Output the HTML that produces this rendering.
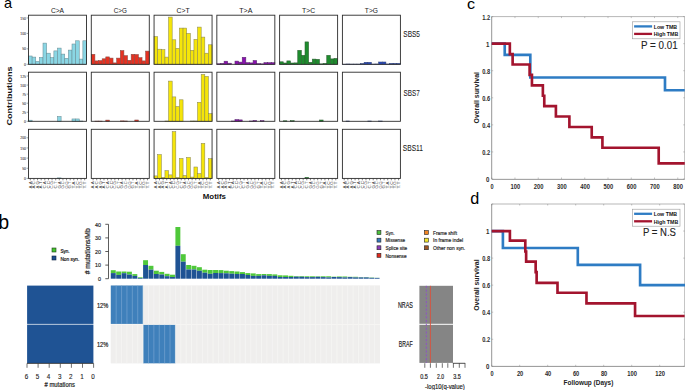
<!DOCTYPE html>
<html><head><meta charset="utf-8"><style>
html,body{margin:0;padding:0;background:#fff;overflow:hidden;}
svg{display:block;}
text{font-family:"Liberation Sans", sans-serif;}
</style></head><body>
<svg width="685" height="390" viewBox="0 0 685 390">
<rect width="685" height="390" fill="#fff"/>
<rect x="28.50" y="56.00" width="3.62" height="8.30" fill="#8AD6E4" stroke="#6A8E96" stroke-width="0.55"/>
<rect x="32.12" y="57.10" width="3.62" height="7.20" fill="#8AD6E4" stroke="#6A8E96" stroke-width="0.55"/>
<rect x="35.75" y="61.50" width="3.62" height="2.80" fill="#8AD6E4" stroke="#6A8E96" stroke-width="0.55"/>
<rect x="39.38" y="57.50" width="3.62" height="6.80" fill="#8AD6E4" stroke="#6A8E96" stroke-width="0.55"/>
<rect x="43.00" y="43.10" width="3.62" height="21.20" fill="#8AD6E4" stroke="#6A8E96" stroke-width="0.55"/>
<rect x="46.62" y="53.20" width="3.62" height="11.10" fill="#8AD6E4" stroke="#6A8E96" stroke-width="0.55"/>
<rect x="50.25" y="57.70" width="3.62" height="6.60" fill="#8AD6E4" stroke="#6A8E96" stroke-width="0.55"/>
<rect x="53.88" y="50.90" width="3.62" height="13.40" fill="#8AD6E4" stroke="#6A8E96" stroke-width="0.55"/>
<rect x="57.50" y="48.10" width="3.62" height="16.20" fill="#8AD6E4" stroke="#6A8E96" stroke-width="0.55"/>
<rect x="61.12" y="54.10" width="3.62" height="10.20" fill="#8AD6E4" stroke="#6A8E96" stroke-width="0.55"/>
<rect x="64.75" y="58.30" width="3.62" height="6.00" fill="#8AD6E4" stroke="#6A8E96" stroke-width="0.55"/>
<rect x="68.38" y="50.10" width="3.62" height="14.20" fill="#8AD6E4" stroke="#6A8E96" stroke-width="0.55"/>
<rect x="72.00" y="44.00" width="3.62" height="20.30" fill="#8AD6E4" stroke="#6A8E96" stroke-width="0.55"/>
<rect x="75.62" y="40.80" width="3.62" height="23.50" fill="#8AD6E4" stroke="#6A8E96" stroke-width="0.55"/>
<rect x="79.25" y="59.10" width="3.62" height="5.20" fill="#8AD6E4" stroke="#6A8E96" stroke-width="0.55"/>
<rect x="82.88" y="40.80" width="3.62" height="23.50" fill="#8AD6E4" stroke="#6A8E96" stroke-width="0.55"/>
<rect x="28.50" y="15.20" width="58.0" height="49.1" fill="none" stroke="#2b2b2b" stroke-width="0.9"/>
<rect x="91.28" y="54.30" width="3.62" height="10.00" fill="#E53222" stroke="#8A4A44" stroke-width="0.55"/>
<rect x="94.91" y="60.90" width="3.62" height="3.40" fill="#E53222" stroke="#8A4A44" stroke-width="0.55"/>
<rect x="98.53" y="60.60" width="3.62" height="3.70" fill="#E53222" stroke="#8A4A44" stroke-width="0.55"/>
<rect x="102.16" y="58.80" width="3.62" height="5.50" fill="#E53222" stroke="#8A4A44" stroke-width="0.55"/>
<rect x="105.78" y="56.90" width="3.62" height="7.40" fill="#E53222" stroke="#8A4A44" stroke-width="0.55"/>
<rect x="109.41" y="58.10" width="3.62" height="6.20" fill="#E53222" stroke="#8A4A44" stroke-width="0.55"/>
<rect x="113.03" y="62.90" width="3.62" height="1.40" fill="#E53222" stroke="#8A4A44" stroke-width="0.55"/>
<rect x="116.66" y="58.10" width="3.62" height="6.20" fill="#E53222" stroke="#8A4A44" stroke-width="0.55"/>
<rect x="120.28" y="50.60" width="3.62" height="13.70" fill="#E53222" stroke="#8A4A44" stroke-width="0.55"/>
<rect x="123.91" y="55.70" width="3.62" height="8.60" fill="#E53222" stroke="#8A4A44" stroke-width="0.55"/>
<rect x="127.53" y="60.30" width="3.62" height="4.00" fill="#E53222" stroke="#8A4A44" stroke-width="0.55"/>
<rect x="131.16" y="54.30" width="3.62" height="10.00" fill="#E53222" stroke="#8A4A44" stroke-width="0.55"/>
<rect x="134.78" y="54.50" width="3.62" height="9.80" fill="#E53222" stroke="#8A4A44" stroke-width="0.55"/>
<rect x="138.41" y="57.70" width="3.62" height="6.60" fill="#E53222" stroke="#8A4A44" stroke-width="0.55"/>
<rect x="142.03" y="60.90" width="3.62" height="3.40" fill="#E53222" stroke="#8A4A44" stroke-width="0.55"/>
<rect x="145.66" y="51.10" width="3.62" height="13.20" fill="#E53222" stroke="#8A4A44" stroke-width="0.55"/>
<rect x="91.28" y="15.20" width="58.0" height="49.1" fill="none" stroke="#2b2b2b" stroke-width="0.9"/>
<rect x="154.06" y="36.60" width="3.62" height="27.70" fill="#F5E50A" stroke="#8E8A50" stroke-width="0.55"/>
<rect x="157.69" y="49.20" width="3.62" height="15.10" fill="#F5E50A" stroke="#8E8A50" stroke-width="0.55"/>
<rect x="161.31" y="49.70" width="3.62" height="14.60" fill="#F5E50A" stroke="#8E8A50" stroke-width="0.55"/>
<rect x="164.94" y="57.10" width="3.62" height="7.20" fill="#F5E50A" stroke="#8E8A50" stroke-width="0.55"/>
<rect x="168.56" y="17.10" width="3.62" height="47.20" fill="#F5E50A" stroke="#8E8A50" stroke-width="0.55"/>
<rect x="172.19" y="39.80" width="3.62" height="24.50" fill="#F5E50A" stroke="#8E8A50" stroke-width="0.55"/>
<rect x="175.81" y="48.30" width="3.62" height="16.00" fill="#F5E50A" stroke="#8E8A50" stroke-width="0.55"/>
<rect x="179.44" y="28.10" width="3.62" height="36.20" fill="#F5E50A" stroke="#8E8A50" stroke-width="0.55"/>
<rect x="183.06" y="28.10" width="3.62" height="36.20" fill="#F5E50A" stroke="#8E8A50" stroke-width="0.55"/>
<rect x="186.69" y="33.40" width="3.62" height="30.90" fill="#F5E50A" stroke="#8E8A50" stroke-width="0.55"/>
<rect x="190.31" y="50.30" width="3.62" height="14.00" fill="#F5E50A" stroke="#8E8A50" stroke-width="0.55"/>
<rect x="193.94" y="39.40" width="3.62" height="24.90" fill="#F5E50A" stroke="#8E8A50" stroke-width="0.55"/>
<rect x="197.56" y="27.10" width="3.62" height="37.20" fill="#F5E50A" stroke="#8E8A50" stroke-width="0.55"/>
<rect x="201.19" y="37.10" width="3.62" height="27.20" fill="#F5E50A" stroke="#8E8A50" stroke-width="0.55"/>
<rect x="204.81" y="53.20" width="3.62" height="11.10" fill="#F5E50A" stroke="#8E8A50" stroke-width="0.55"/>
<rect x="208.44" y="44.80" width="3.62" height="19.50" fill="#F5E50A" stroke="#8E8A50" stroke-width="0.55"/>
<rect x="154.06" y="15.20" width="58.0" height="49.1" fill="none" stroke="#2b2b2b" stroke-width="0.9"/>
<rect x="216.84" y="63.80" width="3.62" height="0.50" fill="#8A10B0" stroke="#5A2A6E" stroke-width="0.55"/>
<rect x="220.47" y="63.40" width="3.62" height="0.90" fill="#8A10B0" stroke="#5A2A6E" stroke-width="0.55"/>
<rect x="224.09" y="61.20" width="3.62" height="3.10" fill="#8A10B0" stroke="#5A2A6E" stroke-width="0.55"/>
<rect x="227.72" y="63.20" width="3.62" height="1.10" fill="#8A10B0" stroke="#5A2A6E" stroke-width="0.55"/>
<rect x="234.97" y="61.10" width="3.62" height="3.20" fill="#8A10B0" stroke="#5A2A6E" stroke-width="0.55"/>
<rect x="238.59" y="62.10" width="3.62" height="2.20" fill="#8A10B0" stroke="#5A2A6E" stroke-width="0.55"/>
<rect x="242.22" y="57.30" width="3.62" height="7.00" fill="#8A10B0" stroke="#5A2A6E" stroke-width="0.55"/>
<rect x="245.84" y="62.70" width="3.62" height="1.60" fill="#8A10B0" stroke="#5A2A6E" stroke-width="0.55"/>
<rect x="249.47" y="62.90" width="3.62" height="1.40" fill="#8A10B0" stroke="#5A2A6E" stroke-width="0.55"/>
<rect x="253.09" y="60.50" width="3.62" height="3.80" fill="#8A10B0" stroke="#5A2A6E" stroke-width="0.55"/>
<rect x="256.72" y="63.60" width="3.62" height="0.70" fill="#8A10B0" stroke="#5A2A6E" stroke-width="0.55"/>
<rect x="260.34" y="63.90" width="3.62" height="0.40" fill="#8A10B0" stroke="#5A2A6E" stroke-width="0.55"/>
<rect x="263.97" y="62.70" width="3.62" height="1.60" fill="#8A10B0" stroke="#5A2A6E" stroke-width="0.55"/>
<rect x="267.59" y="62.70" width="3.62" height="1.60" fill="#8A10B0" stroke="#5A2A6E" stroke-width="0.55"/>
<rect x="271.22" y="62.70" width="3.62" height="1.60" fill="#8A10B0" stroke="#5A2A6E" stroke-width="0.55"/>
<rect x="216.84" y="15.20" width="58.0" height="49.1" fill="none" stroke="#2b2b2b" stroke-width="0.9"/>
<rect x="279.62" y="61.80" width="3.62" height="2.50" fill="#1E8C2E" stroke="#2F5F33" stroke-width="0.55"/>
<rect x="283.25" y="63.00" width="3.62" height="1.30" fill="#1E8C2E" stroke="#2F5F33" stroke-width="0.55"/>
<rect x="286.87" y="60.90" width="3.62" height="3.40" fill="#1E8C2E" stroke="#2F5F33" stroke-width="0.55"/>
<rect x="290.50" y="63.00" width="3.62" height="1.30" fill="#1E8C2E" stroke="#2F5F33" stroke-width="0.55"/>
<rect x="294.12" y="62.90" width="3.62" height="1.40" fill="#1E8C2E" stroke="#2F5F33" stroke-width="0.55"/>
<rect x="297.75" y="50.30" width="3.62" height="14.00" fill="#1E8C2E" stroke="#2F5F33" stroke-width="0.55"/>
<rect x="301.37" y="55.30" width="3.62" height="9.00" fill="#1E8C2E" stroke="#2F5F33" stroke-width="0.55"/>
<rect x="305.00" y="41.90" width="3.62" height="22.40" fill="#1E8C2E" stroke="#2F5F33" stroke-width="0.55"/>
<rect x="308.62" y="62.30" width="3.62" height="2.00" fill="#1E8C2E" stroke="#2F5F33" stroke-width="0.55"/>
<rect x="312.25" y="59.10" width="3.62" height="5.20" fill="#1E8C2E" stroke="#2F5F33" stroke-width="0.55"/>
<rect x="315.87" y="59.30" width="3.62" height="5.00" fill="#1E8C2E" stroke="#2F5F33" stroke-width="0.55"/>
<rect x="319.50" y="63.90" width="3.62" height="0.40" fill="#1E8C2E" stroke="#2F5F33" stroke-width="0.55"/>
<rect x="323.12" y="63.40" width="3.62" height="0.90" fill="#1E8C2E" stroke="#2F5F33" stroke-width="0.55"/>
<rect x="326.75" y="55.30" width="3.62" height="9.00" fill="#1E8C2E" stroke="#2F5F33" stroke-width="0.55"/>
<rect x="330.37" y="58.90" width="3.62" height="5.40" fill="#1E8C2E" stroke="#2F5F33" stroke-width="0.55"/>
<rect x="334.00" y="58.40" width="3.62" height="5.90" fill="#1E8C2E" stroke="#2F5F33" stroke-width="0.55"/>
<rect x="279.62" y="15.20" width="58.0" height="49.1" fill="none" stroke="#2b2b2b" stroke-width="0.9"/>
<rect x="342.40" y="64.20" width="3.62" height="0.10" fill="#2748BE" stroke="#33467A" stroke-width="0.55"/>
<rect x="346.02" y="64.00" width="3.62" height="0.30" fill="#2748BE" stroke="#33467A" stroke-width="0.55"/>
<rect x="349.65" y="64.10" width="3.62" height="0.20" fill="#2748BE" stroke="#33467A" stroke-width="0.55"/>
<rect x="353.27" y="64.10" width="3.62" height="0.20" fill="#2748BE" stroke="#33467A" stroke-width="0.55"/>
<rect x="356.90" y="64.10" width="3.62" height="0.20" fill="#2748BE" stroke="#33467A" stroke-width="0.55"/>
<rect x="360.52" y="63.60" width="3.62" height="0.70" fill="#2748BE" stroke="#33467A" stroke-width="0.55"/>
<rect x="364.15" y="62.30" width="3.62" height="2.00" fill="#2748BE" stroke="#33467A" stroke-width="0.55"/>
<rect x="367.77" y="62.30" width="3.62" height="2.00" fill="#2748BE" stroke="#33467A" stroke-width="0.55"/>
<rect x="371.40" y="64.10" width="3.62" height="0.20" fill="#2748BE" stroke="#33467A" stroke-width="0.55"/>
<rect x="375.02" y="64.00" width="3.62" height="0.30" fill="#2748BE" stroke="#33467A" stroke-width="0.55"/>
<rect x="378.65" y="62.00" width="3.62" height="2.30" fill="#2748BE" stroke="#33467A" stroke-width="0.55"/>
<rect x="382.27" y="62.00" width="3.62" height="2.30" fill="#2748BE" stroke="#33467A" stroke-width="0.55"/>
<rect x="385.90" y="64.00" width="3.62" height="0.30" fill="#2748BE" stroke="#33467A" stroke-width="0.55"/>
<rect x="389.52" y="63.40" width="3.62" height="0.90" fill="#2748BE" stroke="#33467A" stroke-width="0.55"/>
<rect x="393.15" y="63.40" width="3.62" height="0.90" fill="#2748BE" stroke="#33467A" stroke-width="0.55"/>
<rect x="396.77" y="63.40" width="3.62" height="0.90" fill="#2748BE" stroke="#33467A" stroke-width="0.55"/>
<rect x="342.40" y="15.20" width="58.0" height="49.1" fill="none" stroke="#2b2b2b" stroke-width="0.9"/>
<rect x="28.50" y="120.20" width="3.62" height="1.10" fill="#8AD6E4" stroke="#6A8E96" stroke-width="0.55"/>
<rect x="57.50" y="116.50" width="3.62" height="4.80" fill="#8AD6E4" stroke="#6A8E96" stroke-width="0.55"/>
<rect x="72.00" y="118.95" width="3.62" height="2.35" fill="#8AD6E4" stroke="#6A8E96" stroke-width="0.55"/>
<rect x="75.62" y="118.95" width="3.62" height="2.35" fill="#8AD6E4" stroke="#6A8E96" stroke-width="0.55"/>
<rect x="79.25" y="121.00" width="3.62" height="0.30" fill="#8AD6E4" stroke="#6A8E96" stroke-width="0.55"/>
<rect x="28.50" y="72.20" width="58.0" height="49.1" fill="none" stroke="#2b2b2b" stroke-width="0.9"/>
<rect x="94.91" y="121.10" width="3.62" height="0.20" fill="#E53222" stroke="#8A4A44" stroke-width="0.55"/>
<rect x="98.53" y="121.10" width="3.62" height="0.20" fill="#E53222" stroke="#8A4A44" stroke-width="0.55"/>
<rect x="105.78" y="120.10" width="3.62" height="1.20" fill="#E53222" stroke="#8A4A44" stroke-width="0.55"/>
<rect x="120.28" y="120.90" width="3.62" height="0.40" fill="#E53222" stroke="#8A4A44" stroke-width="0.55"/>
<rect x="123.91" y="121.00" width="3.62" height="0.30" fill="#E53222" stroke="#8A4A44" stroke-width="0.55"/>
<rect x="134.78" y="120.00" width="3.62" height="1.30" fill="#E53222" stroke="#8A4A44" stroke-width="0.55"/>
<rect x="91.28" y="72.20" width="58.0" height="49.1" fill="none" stroke="#2b2b2b" stroke-width="0.9"/>
<rect x="164.94" y="121.00" width="3.62" height="0.30" fill="#F5E50A" stroke="#8E8A50" stroke-width="0.55"/>
<rect x="168.56" y="81.10" width="3.62" height="40.20" fill="#F5E50A" stroke="#8E8A50" stroke-width="0.55"/>
<rect x="172.19" y="96.90" width="3.62" height="24.40" fill="#F5E50A" stroke="#8E8A50" stroke-width="0.55"/>
<rect x="175.81" y="106.50" width="3.62" height="14.80" fill="#F5E50A" stroke="#8E8A50" stroke-width="0.55"/>
<rect x="179.44" y="99.80" width="3.62" height="21.50" fill="#F5E50A" stroke="#8E8A50" stroke-width="0.55"/>
<rect x="190.31" y="121.00" width="3.62" height="0.30" fill="#F5E50A" stroke="#8E8A50" stroke-width="0.55"/>
<rect x="193.94" y="121.00" width="3.62" height="0.30" fill="#F5E50A" stroke="#8E8A50" stroke-width="0.55"/>
<rect x="197.56" y="102.30" width="3.62" height="19.00" fill="#F5E50A" stroke="#8E8A50" stroke-width="0.55"/>
<rect x="201.19" y="74.50" width="3.62" height="46.80" fill="#F5E50A" stroke="#8E8A50" stroke-width="0.55"/>
<rect x="204.81" y="76.40" width="3.62" height="44.90" fill="#F5E50A" stroke="#8E8A50" stroke-width="0.55"/>
<rect x="208.44" y="113.70" width="3.62" height="7.60" fill="#F5E50A" stroke="#8E8A50" stroke-width="0.55"/>
<rect x="154.06" y="72.20" width="58.0" height="49.1" fill="none" stroke="#2b2b2b" stroke-width="0.9"/>
<rect x="231.34" y="121.00" width="3.62" height="0.30" fill="#8A10B0" stroke="#5A2A6E" stroke-width="0.55"/>
<rect x="234.97" y="119.60" width="3.62" height="1.70" fill="#8A10B0" stroke="#5A2A6E" stroke-width="0.55"/>
<rect x="238.59" y="119.90" width="3.62" height="1.40" fill="#8A10B0" stroke="#5A2A6E" stroke-width="0.55"/>
<rect x="249.47" y="121.00" width="3.62" height="0.30" fill="#8A10B0" stroke="#5A2A6E" stroke-width="0.55"/>
<rect x="253.09" y="120.50" width="3.62" height="0.80" fill="#8A10B0" stroke="#5A2A6E" stroke-width="0.55"/>
<rect x="260.34" y="120.70" width="3.62" height="0.60" fill="#8A10B0" stroke="#5A2A6E" stroke-width="0.55"/>
<rect x="216.84" y="72.20" width="58.0" height="49.1" fill="none" stroke="#2b2b2b" stroke-width="0.9"/>
<rect x="283.25" y="120.80" width="3.62" height="0.50" fill="#1E8C2E" stroke="#2F5F33" stroke-width="0.55"/>
<rect x="290.50" y="120.70" width="3.62" height="0.60" fill="#1E8C2E" stroke="#2F5F33" stroke-width="0.55"/>
<rect x="319.50" y="120.00" width="3.62" height="1.30" fill="#1E8C2E" stroke="#2F5F33" stroke-width="0.55"/>
<rect x="279.62" y="72.20" width="58.0" height="49.1" fill="none" stroke="#2b2b2b" stroke-width="0.9"/>
<rect x="346.02" y="121.00" width="3.62" height="0.30" fill="#2748BE" stroke="#33467A" stroke-width="0.55"/>
<rect x="367.77" y="121.00" width="3.62" height="0.30" fill="#2748BE" stroke="#33467A" stroke-width="0.55"/>
<rect x="378.65" y="121.00" width="3.62" height="0.30" fill="#2748BE" stroke="#33467A" stroke-width="0.55"/>
<rect x="342.40" y="72.20" width="58.0" height="49.1" fill="none" stroke="#2b2b2b" stroke-width="0.9"/>
<rect x="57.50" y="177.90" width="3.62" height="0.50" fill="#8AD6E4" stroke="#6A8E96" stroke-width="0.55"/>
<rect x="28.50" y="129.30" width="58.0" height="49.1" fill="none" stroke="#2b2b2b" stroke-width="0.9"/>
<rect x="91.28" y="129.30" width="58.0" height="49.1" fill="none" stroke="#2b2b2b" stroke-width="0.9"/>
<rect x="154.06" y="175.90" width="3.62" height="2.50" fill="#F5E50A" stroke="#8E8A50" stroke-width="0.55"/>
<rect x="157.69" y="154.60" width="3.62" height="23.80" fill="#F5E50A" stroke="#8E8A50" stroke-width="0.55"/>
<rect x="161.31" y="177.50" width="3.62" height="0.90" fill="#F5E50A" stroke="#8E8A50" stroke-width="0.55"/>
<rect x="164.94" y="170.70" width="3.62" height="7.70" fill="#F5E50A" stroke="#8E8A50" stroke-width="0.55"/>
<rect x="168.56" y="174.90" width="3.62" height="3.50" fill="#F5E50A" stroke="#8E8A50" stroke-width="0.55"/>
<rect x="172.19" y="131.70" width="3.62" height="46.70" fill="#F5E50A" stroke="#8E8A50" stroke-width="0.55"/>
<rect x="175.81" y="177.50" width="3.62" height="0.90" fill="#F5E50A" stroke="#8E8A50" stroke-width="0.55"/>
<rect x="179.44" y="158.50" width="3.62" height="19.90" fill="#F5E50A" stroke="#8E8A50" stroke-width="0.55"/>
<rect x="183.06" y="175.50" width="3.62" height="2.90" fill="#F5E50A" stroke="#8E8A50" stroke-width="0.55"/>
<rect x="186.69" y="157.50" width="3.62" height="20.90" fill="#F5E50A" stroke="#8E8A50" stroke-width="0.55"/>
<rect x="190.31" y="177.10" width="3.62" height="1.30" fill="#F5E50A" stroke="#8E8A50" stroke-width="0.55"/>
<rect x="193.94" y="167.00" width="3.62" height="11.40" fill="#F5E50A" stroke="#8E8A50" stroke-width="0.55"/>
<rect x="197.56" y="173.70" width="3.62" height="4.70" fill="#F5E50A" stroke="#8E8A50" stroke-width="0.55"/>
<rect x="201.19" y="143.40" width="3.62" height="35.00" fill="#F5E50A" stroke="#8E8A50" stroke-width="0.55"/>
<rect x="204.81" y="177.50" width="3.62" height="0.90" fill="#F5E50A" stroke="#8E8A50" stroke-width="0.55"/>
<rect x="208.44" y="158.70" width="3.62" height="19.70" fill="#F5E50A" stroke="#8E8A50" stroke-width="0.55"/>
<rect x="154.06" y="129.30" width="58.0" height="49.1" fill="none" stroke="#2b2b2b" stroke-width="0.9"/>
<rect x="216.84" y="129.30" width="58.0" height="49.1" fill="none" stroke="#2b2b2b" stroke-width="0.9"/>
<rect x="305.00" y="177.40" width="3.62" height="1.00" fill="#1E8C2E" stroke="#2F5F33" stroke-width="0.55"/>
<rect x="279.62" y="129.30" width="58.0" height="49.1" fill="none" stroke="#2b2b2b" stroke-width="0.9"/>
<rect x="342.40" y="129.30" width="58.0" height="49.1" fill="none" stroke="#2b2b2b" stroke-width="0.9"/>
<text x="57.50" y="12.90" font-size="7.2" text-anchor="middle" font-weight="normal" fill="#222" stroke="#222" stroke-width="0.04" textLength="13.1" lengthAdjust="spacingAndGlyphs" >C&gt;A</text>
<text x="120.28" y="12.90" font-size="7.2" text-anchor="middle" font-weight="normal" fill="#222" stroke="#222" stroke-width="0.04" textLength="13.1" lengthAdjust="spacingAndGlyphs" >C&gt;G</text>
<text x="183.06" y="12.90" font-size="7.2" text-anchor="middle" font-weight="normal" fill="#222" stroke="#222" stroke-width="0.04" textLength="13.1" lengthAdjust="spacingAndGlyphs" >C&gt;T</text>
<text x="245.84" y="12.90" font-size="7.2" text-anchor="middle" font-weight="normal" fill="#222" stroke="#222" stroke-width="0.04" textLength="13.1" lengthAdjust="spacingAndGlyphs" >T&gt;A</text>
<text x="308.62" y="12.90" font-size="7.2" text-anchor="middle" font-weight="normal" fill="#222" stroke="#222" stroke-width="0.04" textLength="13.1" lengthAdjust="spacingAndGlyphs" >T&gt;C</text>
<text x="371.40" y="12.90" font-size="7.2" text-anchor="middle" font-weight="normal" fill="#222" stroke="#222" stroke-width="0.04" textLength="13.1" lengthAdjust="spacingAndGlyphs" >T&gt;G</text>
<line x1="26.6" y1="64.30" x2="28.5" y2="64.30" stroke="#444" stroke-width="0.5"/>
<text x="26.00" y="65.90" font-size="4.3" text-anchor="end" font-weight="normal" fill="#444" stroke="#444" stroke-width="0.1" textLength="1.9" lengthAdjust="spacingAndGlyphs" >0</text>
<line x1="26.6" y1="48.85" x2="28.5" y2="48.85" stroke="#444" stroke-width="0.5"/>
<text x="26.00" y="50.45" font-size="4.3" text-anchor="end" font-weight="normal" fill="#444" stroke="#444" stroke-width="0.1" textLength="3.8" lengthAdjust="spacingAndGlyphs" >50</text>
<line x1="26.6" y1="33.40" x2="28.5" y2="33.40" stroke="#444" stroke-width="0.5"/>
<text x="26.00" y="35.00" font-size="4.3" text-anchor="end" font-weight="normal" fill="#444" stroke="#444" stroke-width="0.1" textLength="5.7" lengthAdjust="spacingAndGlyphs" >100</text>
<line x1="26.6" y1="17.95" x2="28.5" y2="17.95" stroke="#444" stroke-width="0.5"/>
<text x="26.00" y="19.55" font-size="4.3" text-anchor="end" font-weight="normal" fill="#444" stroke="#444" stroke-width="0.1" textLength="5.7" lengthAdjust="spacingAndGlyphs" >150</text>
<line x1="26.6" y1="121.30" x2="28.5" y2="121.30" stroke="#444" stroke-width="0.5"/>
<text x="26.00" y="122.90" font-size="4.3" text-anchor="end" font-weight="normal" fill="#444" stroke="#444" stroke-width="0.1" textLength="1.9" lengthAdjust="spacingAndGlyphs" >0</text>
<line x1="26.6" y1="112.24" x2="28.5" y2="112.24" stroke="#444" stroke-width="0.5"/>
<text x="26.00" y="113.84" font-size="4.3" text-anchor="end" font-weight="normal" fill="#444" stroke="#444" stroke-width="0.1" textLength="3.8" lengthAdjust="spacingAndGlyphs" >25</text>
<line x1="26.6" y1="103.18" x2="28.5" y2="103.18" stroke="#444" stroke-width="0.5"/>
<text x="26.00" y="104.78" font-size="4.3" text-anchor="end" font-weight="normal" fill="#444" stroke="#444" stroke-width="0.1" textLength="3.8" lengthAdjust="spacingAndGlyphs" >50</text>
<line x1="26.6" y1="94.12" x2="28.5" y2="94.12" stroke="#444" stroke-width="0.5"/>
<text x="26.00" y="95.72" font-size="4.3" text-anchor="end" font-weight="normal" fill="#444" stroke="#444" stroke-width="0.1" textLength="3.8" lengthAdjust="spacingAndGlyphs" >75</text>
<line x1="26.6" y1="85.06" x2="28.5" y2="85.06" stroke="#444" stroke-width="0.5"/>
<text x="26.00" y="86.66" font-size="4.3" text-anchor="end" font-weight="normal" fill="#444" stroke="#444" stroke-width="0.1" textLength="5.7" lengthAdjust="spacingAndGlyphs" >100</text>
<line x1="26.6" y1="76.00" x2="28.5" y2="76.00" stroke="#444" stroke-width="0.5"/>
<text x="26.00" y="77.60" font-size="4.3" text-anchor="end" font-weight="normal" fill="#444" stroke="#444" stroke-width="0.1" textLength="5.7" lengthAdjust="spacingAndGlyphs" >125</text>
<line x1="26.6" y1="178.40" x2="28.5" y2="178.40" stroke="#444" stroke-width="0.5"/>
<text x="26.00" y="180.00" font-size="4.3" text-anchor="end" font-weight="normal" fill="#444" stroke="#444" stroke-width="0.1" textLength="1.9" lengthAdjust="spacingAndGlyphs" >0</text>
<line x1="26.6" y1="168.25" x2="28.5" y2="168.25" stroke="#444" stroke-width="0.5"/>
<text x="26.00" y="169.85" font-size="4.3" text-anchor="end" font-weight="normal" fill="#444" stroke="#444" stroke-width="0.1" textLength="3.8" lengthAdjust="spacingAndGlyphs" >50</text>
<line x1="26.6" y1="158.10" x2="28.5" y2="158.10" stroke="#444" stroke-width="0.5"/>
<text x="26.00" y="159.70" font-size="4.3" text-anchor="end" font-weight="normal" fill="#444" stroke="#444" stroke-width="0.1" textLength="5.7" lengthAdjust="spacingAndGlyphs" >100</text>
<line x1="26.6" y1="147.95" x2="28.5" y2="147.95" stroke="#444" stroke-width="0.5"/>
<text x="26.00" y="149.55" font-size="4.3" text-anchor="end" font-weight="normal" fill="#444" stroke="#444" stroke-width="0.1" textLength="5.7" lengthAdjust="spacingAndGlyphs" >150</text>
<line x1="26.6" y1="137.80" x2="28.5" y2="137.80" stroke="#444" stroke-width="0.5"/>
<text x="26.00" y="139.40" font-size="4.3" text-anchor="end" font-weight="normal" fill="#444" stroke="#444" stroke-width="0.1" textLength="5.7" lengthAdjust="spacingAndGlyphs" >200</text>
<text x="403.30" y="36.90" font-size="9" text-anchor="start" font-weight="normal" fill="#222" stroke="#222" stroke-width="0.08" textLength="16.7" lengthAdjust="spacingAndGlyphs" >SBS5</text>
<text x="403.50" y="96.30" font-size="9" text-anchor="start" font-weight="normal" fill="#222" stroke="#222" stroke-width="0.08" textLength="16.2" lengthAdjust="spacingAndGlyphs" >SBS7</text>
<text x="402.80" y="151.40" font-size="9" text-anchor="start" font-weight="normal" fill="#222" stroke="#222" stroke-width="0.08" textLength="20.2" lengthAdjust="spacingAndGlyphs" >SBS11</text>
<line x1="30.31" y1="178.40" x2="30.31" y2="180.30" stroke="#333" stroke-width="0.6"/>
<text transform="translate(31.61,188.60) rotate(-90)" font-size="4.2" fill="#3a3a3a" textLength="7.3" lengthAdjust="spacingAndGlyphs">A.A</text>
<line x1="33.94" y1="178.40" x2="33.94" y2="180.30" stroke="#333" stroke-width="0.6"/>
<text transform="translate(35.24,188.60) rotate(-90)" font-size="4.2" fill="#3a3a3a" textLength="7.3" lengthAdjust="spacingAndGlyphs">A.C</text>
<line x1="37.56" y1="178.40" x2="37.56" y2="180.30" stroke="#333" stroke-width="0.6"/>
<text transform="translate(38.86,188.60) rotate(-90)" font-size="4.2" fill="#3a3a3a" textLength="7.3" lengthAdjust="spacingAndGlyphs">A.G</text>
<line x1="41.19" y1="178.40" x2="41.19" y2="180.30" stroke="#333" stroke-width="0.6"/>
<text transform="translate(42.49,188.60) rotate(-90)" font-size="4.2" fill="#3a3a3a" textLength="7.3" lengthAdjust="spacingAndGlyphs">A.T</text>
<line x1="44.81" y1="178.40" x2="44.81" y2="180.30" stroke="#333" stroke-width="0.6"/>
<text transform="translate(46.11,188.60) rotate(-90)" font-size="4.2" fill="#3a3a3a" textLength="7.3" lengthAdjust="spacingAndGlyphs">C.A</text>
<line x1="48.44" y1="178.40" x2="48.44" y2="180.30" stroke="#333" stroke-width="0.6"/>
<text transform="translate(49.74,188.60) rotate(-90)" font-size="4.2" fill="#3a3a3a" textLength="7.3" lengthAdjust="spacingAndGlyphs">C.C</text>
<line x1="52.06" y1="178.40" x2="52.06" y2="180.30" stroke="#333" stroke-width="0.6"/>
<text transform="translate(53.36,188.60) rotate(-90)" font-size="4.2" fill="#3a3a3a" textLength="7.3" lengthAdjust="spacingAndGlyphs">C.G</text>
<line x1="55.69" y1="178.40" x2="55.69" y2="180.30" stroke="#333" stroke-width="0.6"/>
<text transform="translate(56.99,188.60) rotate(-90)" font-size="4.2" fill="#3a3a3a" textLength="7.3" lengthAdjust="spacingAndGlyphs">C.T</text>
<line x1="59.31" y1="178.40" x2="59.31" y2="180.30" stroke="#333" stroke-width="0.6"/>
<text transform="translate(60.61,188.60) rotate(-90)" font-size="4.2" fill="#3a3a3a" textLength="7.3" lengthAdjust="spacingAndGlyphs">G.A</text>
<line x1="62.94" y1="178.40" x2="62.94" y2="180.30" stroke="#333" stroke-width="0.6"/>
<text transform="translate(64.24,188.60) rotate(-90)" font-size="4.2" fill="#3a3a3a" textLength="7.3" lengthAdjust="spacingAndGlyphs">G.C</text>
<line x1="66.56" y1="178.40" x2="66.56" y2="180.30" stroke="#333" stroke-width="0.6"/>
<text transform="translate(67.86,188.60) rotate(-90)" font-size="4.2" fill="#3a3a3a" textLength="7.3" lengthAdjust="spacingAndGlyphs">G.G</text>
<line x1="70.19" y1="178.40" x2="70.19" y2="180.30" stroke="#333" stroke-width="0.6"/>
<text transform="translate(71.49,188.60) rotate(-90)" font-size="4.2" fill="#3a3a3a" textLength="7.3" lengthAdjust="spacingAndGlyphs">G.T</text>
<line x1="73.81" y1="178.40" x2="73.81" y2="180.30" stroke="#333" stroke-width="0.6"/>
<text transform="translate(75.11,188.60) rotate(-90)" font-size="4.2" fill="#3a3a3a" textLength="7.3" lengthAdjust="spacingAndGlyphs">T.A</text>
<line x1="77.44" y1="178.40" x2="77.44" y2="180.30" stroke="#333" stroke-width="0.6"/>
<text transform="translate(78.74,188.60) rotate(-90)" font-size="4.2" fill="#3a3a3a" textLength="7.3" lengthAdjust="spacingAndGlyphs">T.C</text>
<line x1="81.06" y1="178.40" x2="81.06" y2="180.30" stroke="#333" stroke-width="0.6"/>
<text transform="translate(82.36,188.60) rotate(-90)" font-size="4.2" fill="#3a3a3a" textLength="7.3" lengthAdjust="spacingAndGlyphs">T.G</text>
<line x1="84.69" y1="178.40" x2="84.69" y2="180.30" stroke="#333" stroke-width="0.6"/>
<text transform="translate(85.99,188.60) rotate(-90)" font-size="4.2" fill="#3a3a3a" textLength="7.3" lengthAdjust="spacingAndGlyphs">T.T</text>
<line x1="93.09" y1="178.40" x2="93.09" y2="180.30" stroke="#333" stroke-width="0.6"/>
<text transform="translate(94.39,188.60) rotate(-90)" font-size="4.2" fill="#3a3a3a" textLength="7.3" lengthAdjust="spacingAndGlyphs">A.A</text>
<line x1="96.72" y1="178.40" x2="96.72" y2="180.30" stroke="#333" stroke-width="0.6"/>
<text transform="translate(98.02,188.60) rotate(-90)" font-size="4.2" fill="#3a3a3a" textLength="7.3" lengthAdjust="spacingAndGlyphs">A.C</text>
<line x1="100.34" y1="178.40" x2="100.34" y2="180.30" stroke="#333" stroke-width="0.6"/>
<text transform="translate(101.64,188.60) rotate(-90)" font-size="4.2" fill="#3a3a3a" textLength="7.3" lengthAdjust="spacingAndGlyphs">A.G</text>
<line x1="103.97" y1="178.40" x2="103.97" y2="180.30" stroke="#333" stroke-width="0.6"/>
<text transform="translate(105.27,188.60) rotate(-90)" font-size="4.2" fill="#3a3a3a" textLength="7.3" lengthAdjust="spacingAndGlyphs">A.T</text>
<line x1="107.59" y1="178.40" x2="107.59" y2="180.30" stroke="#333" stroke-width="0.6"/>
<text transform="translate(108.89,188.60) rotate(-90)" font-size="4.2" fill="#3a3a3a" textLength="7.3" lengthAdjust="spacingAndGlyphs">C.A</text>
<line x1="111.22" y1="178.40" x2="111.22" y2="180.30" stroke="#333" stroke-width="0.6"/>
<text transform="translate(112.52,188.60) rotate(-90)" font-size="4.2" fill="#3a3a3a" textLength="7.3" lengthAdjust="spacingAndGlyphs">C.C</text>
<line x1="114.84" y1="178.40" x2="114.84" y2="180.30" stroke="#333" stroke-width="0.6"/>
<text transform="translate(116.14,188.60) rotate(-90)" font-size="4.2" fill="#3a3a3a" textLength="7.3" lengthAdjust="spacingAndGlyphs">C.G</text>
<line x1="118.47" y1="178.40" x2="118.47" y2="180.30" stroke="#333" stroke-width="0.6"/>
<text transform="translate(119.77,188.60) rotate(-90)" font-size="4.2" fill="#3a3a3a" textLength="7.3" lengthAdjust="spacingAndGlyphs">C.T</text>
<line x1="122.09" y1="178.40" x2="122.09" y2="180.30" stroke="#333" stroke-width="0.6"/>
<text transform="translate(123.39,188.60) rotate(-90)" font-size="4.2" fill="#3a3a3a" textLength="7.3" lengthAdjust="spacingAndGlyphs">G.A</text>
<line x1="125.72" y1="178.40" x2="125.72" y2="180.30" stroke="#333" stroke-width="0.6"/>
<text transform="translate(127.02,188.60) rotate(-90)" font-size="4.2" fill="#3a3a3a" textLength="7.3" lengthAdjust="spacingAndGlyphs">G.C</text>
<line x1="129.34" y1="178.40" x2="129.34" y2="180.30" stroke="#333" stroke-width="0.6"/>
<text transform="translate(130.64,188.60) rotate(-90)" font-size="4.2" fill="#3a3a3a" textLength="7.3" lengthAdjust="spacingAndGlyphs">G.G</text>
<line x1="132.97" y1="178.40" x2="132.97" y2="180.30" stroke="#333" stroke-width="0.6"/>
<text transform="translate(134.27,188.60) rotate(-90)" font-size="4.2" fill="#3a3a3a" textLength="7.3" lengthAdjust="spacingAndGlyphs">G.T</text>
<line x1="136.59" y1="178.40" x2="136.59" y2="180.30" stroke="#333" stroke-width="0.6"/>
<text transform="translate(137.89,188.60) rotate(-90)" font-size="4.2" fill="#3a3a3a" textLength="7.3" lengthAdjust="spacingAndGlyphs">T.A</text>
<line x1="140.22" y1="178.40" x2="140.22" y2="180.30" stroke="#333" stroke-width="0.6"/>
<text transform="translate(141.52,188.60) rotate(-90)" font-size="4.2" fill="#3a3a3a" textLength="7.3" lengthAdjust="spacingAndGlyphs">T.C</text>
<line x1="143.84" y1="178.40" x2="143.84" y2="180.30" stroke="#333" stroke-width="0.6"/>
<text transform="translate(145.14,188.60) rotate(-90)" font-size="4.2" fill="#3a3a3a" textLength="7.3" lengthAdjust="spacingAndGlyphs">T.G</text>
<line x1="147.47" y1="178.40" x2="147.47" y2="180.30" stroke="#333" stroke-width="0.6"/>
<text transform="translate(148.77,188.60) rotate(-90)" font-size="4.2" fill="#3a3a3a" textLength="7.3" lengthAdjust="spacingAndGlyphs">T.T</text>
<line x1="155.87" y1="178.40" x2="155.87" y2="180.30" stroke="#333" stroke-width="0.6"/>
<text transform="translate(157.17,188.60) rotate(-90)" font-size="4.2" fill="#3a3a3a" textLength="7.3" lengthAdjust="spacingAndGlyphs">A.A</text>
<line x1="159.50" y1="178.40" x2="159.50" y2="180.30" stroke="#333" stroke-width="0.6"/>
<text transform="translate(160.80,188.60) rotate(-90)" font-size="4.2" fill="#3a3a3a" textLength="7.3" lengthAdjust="spacingAndGlyphs">A.C</text>
<line x1="163.12" y1="178.40" x2="163.12" y2="180.30" stroke="#333" stroke-width="0.6"/>
<text transform="translate(164.42,188.60) rotate(-90)" font-size="4.2" fill="#3a3a3a" textLength="7.3" lengthAdjust="spacingAndGlyphs">A.G</text>
<line x1="166.75" y1="178.40" x2="166.75" y2="180.30" stroke="#333" stroke-width="0.6"/>
<text transform="translate(168.05,188.60) rotate(-90)" font-size="4.2" fill="#3a3a3a" textLength="7.3" lengthAdjust="spacingAndGlyphs">A.T</text>
<line x1="170.37" y1="178.40" x2="170.37" y2="180.30" stroke="#333" stroke-width="0.6"/>
<text transform="translate(171.67,188.60) rotate(-90)" font-size="4.2" fill="#3a3a3a" textLength="7.3" lengthAdjust="spacingAndGlyphs">C.A</text>
<line x1="174.00" y1="178.40" x2="174.00" y2="180.30" stroke="#333" stroke-width="0.6"/>
<text transform="translate(175.30,188.60) rotate(-90)" font-size="4.2" fill="#3a3a3a" textLength="7.3" lengthAdjust="spacingAndGlyphs">C.C</text>
<line x1="177.62" y1="178.40" x2="177.62" y2="180.30" stroke="#333" stroke-width="0.6"/>
<text transform="translate(178.92,188.60) rotate(-90)" font-size="4.2" fill="#3a3a3a" textLength="7.3" lengthAdjust="spacingAndGlyphs">C.G</text>
<line x1="181.25" y1="178.40" x2="181.25" y2="180.30" stroke="#333" stroke-width="0.6"/>
<text transform="translate(182.55,188.60) rotate(-90)" font-size="4.2" fill="#3a3a3a" textLength="7.3" lengthAdjust="spacingAndGlyphs">C.T</text>
<line x1="184.87" y1="178.40" x2="184.87" y2="180.30" stroke="#333" stroke-width="0.6"/>
<text transform="translate(186.17,188.60) rotate(-90)" font-size="4.2" fill="#3a3a3a" textLength="7.3" lengthAdjust="spacingAndGlyphs">G.A</text>
<line x1="188.50" y1="178.40" x2="188.50" y2="180.30" stroke="#333" stroke-width="0.6"/>
<text transform="translate(189.80,188.60) rotate(-90)" font-size="4.2" fill="#3a3a3a" textLength="7.3" lengthAdjust="spacingAndGlyphs">G.C</text>
<line x1="192.12" y1="178.40" x2="192.12" y2="180.30" stroke="#333" stroke-width="0.6"/>
<text transform="translate(193.42,188.60) rotate(-90)" font-size="4.2" fill="#3a3a3a" textLength="7.3" lengthAdjust="spacingAndGlyphs">G.G</text>
<line x1="195.75" y1="178.40" x2="195.75" y2="180.30" stroke="#333" stroke-width="0.6"/>
<text transform="translate(197.05,188.60) rotate(-90)" font-size="4.2" fill="#3a3a3a" textLength="7.3" lengthAdjust="spacingAndGlyphs">G.T</text>
<line x1="199.37" y1="178.40" x2="199.37" y2="180.30" stroke="#333" stroke-width="0.6"/>
<text transform="translate(200.67,188.60) rotate(-90)" font-size="4.2" fill="#3a3a3a" textLength="7.3" lengthAdjust="spacingAndGlyphs">T.A</text>
<line x1="203.00" y1="178.40" x2="203.00" y2="180.30" stroke="#333" stroke-width="0.6"/>
<text transform="translate(204.30,188.60) rotate(-90)" font-size="4.2" fill="#3a3a3a" textLength="7.3" lengthAdjust="spacingAndGlyphs">T.C</text>
<line x1="206.62" y1="178.40" x2="206.62" y2="180.30" stroke="#333" stroke-width="0.6"/>
<text transform="translate(207.92,188.60) rotate(-90)" font-size="4.2" fill="#3a3a3a" textLength="7.3" lengthAdjust="spacingAndGlyphs">T.G</text>
<line x1="210.25" y1="178.40" x2="210.25" y2="180.30" stroke="#333" stroke-width="0.6"/>
<text transform="translate(211.55,188.60) rotate(-90)" font-size="4.2" fill="#3a3a3a" textLength="7.3" lengthAdjust="spacingAndGlyphs">T.T</text>
<line x1="218.65" y1="178.40" x2="218.65" y2="180.30" stroke="#333" stroke-width="0.6"/>
<text transform="translate(219.95,188.60) rotate(-90)" font-size="4.2" fill="#3a3a3a" textLength="7.3" lengthAdjust="spacingAndGlyphs">A.A</text>
<line x1="222.28" y1="178.40" x2="222.28" y2="180.30" stroke="#333" stroke-width="0.6"/>
<text transform="translate(223.58,188.60) rotate(-90)" font-size="4.2" fill="#3a3a3a" textLength="7.3" lengthAdjust="spacingAndGlyphs">A.C</text>
<line x1="225.90" y1="178.40" x2="225.90" y2="180.30" stroke="#333" stroke-width="0.6"/>
<text transform="translate(227.20,188.60) rotate(-90)" font-size="4.2" fill="#3a3a3a" textLength="7.3" lengthAdjust="spacingAndGlyphs">A.G</text>
<line x1="229.53" y1="178.40" x2="229.53" y2="180.30" stroke="#333" stroke-width="0.6"/>
<text transform="translate(230.83,188.60) rotate(-90)" font-size="4.2" fill="#3a3a3a" textLength="7.3" lengthAdjust="spacingAndGlyphs">A.T</text>
<line x1="233.15" y1="178.40" x2="233.15" y2="180.30" stroke="#333" stroke-width="0.6"/>
<text transform="translate(234.45,188.60) rotate(-90)" font-size="4.2" fill="#3a3a3a" textLength="7.3" lengthAdjust="spacingAndGlyphs">C.A</text>
<line x1="236.78" y1="178.40" x2="236.78" y2="180.30" stroke="#333" stroke-width="0.6"/>
<text transform="translate(238.08,188.60) rotate(-90)" font-size="4.2" fill="#3a3a3a" textLength="7.3" lengthAdjust="spacingAndGlyphs">C.C</text>
<line x1="240.40" y1="178.40" x2="240.40" y2="180.30" stroke="#333" stroke-width="0.6"/>
<text transform="translate(241.70,188.60) rotate(-90)" font-size="4.2" fill="#3a3a3a" textLength="7.3" lengthAdjust="spacingAndGlyphs">C.G</text>
<line x1="244.03" y1="178.40" x2="244.03" y2="180.30" stroke="#333" stroke-width="0.6"/>
<text transform="translate(245.33,188.60) rotate(-90)" font-size="4.2" fill="#3a3a3a" textLength="7.3" lengthAdjust="spacingAndGlyphs">C.T</text>
<line x1="247.65" y1="178.40" x2="247.65" y2="180.30" stroke="#333" stroke-width="0.6"/>
<text transform="translate(248.95,188.60) rotate(-90)" font-size="4.2" fill="#3a3a3a" textLength="7.3" lengthAdjust="spacingAndGlyphs">G.A</text>
<line x1="251.28" y1="178.40" x2="251.28" y2="180.30" stroke="#333" stroke-width="0.6"/>
<text transform="translate(252.58,188.60) rotate(-90)" font-size="4.2" fill="#3a3a3a" textLength="7.3" lengthAdjust="spacingAndGlyphs">G.C</text>
<line x1="254.90" y1="178.40" x2="254.90" y2="180.30" stroke="#333" stroke-width="0.6"/>
<text transform="translate(256.20,188.60) rotate(-90)" font-size="4.2" fill="#3a3a3a" textLength="7.3" lengthAdjust="spacingAndGlyphs">G.G</text>
<line x1="258.53" y1="178.40" x2="258.53" y2="180.30" stroke="#333" stroke-width="0.6"/>
<text transform="translate(259.83,188.60) rotate(-90)" font-size="4.2" fill="#3a3a3a" textLength="7.3" lengthAdjust="spacingAndGlyphs">G.T</text>
<line x1="262.15" y1="178.40" x2="262.15" y2="180.30" stroke="#333" stroke-width="0.6"/>
<text transform="translate(263.45,188.60) rotate(-90)" font-size="4.2" fill="#3a3a3a" textLength="7.3" lengthAdjust="spacingAndGlyphs">T.A</text>
<line x1="265.78" y1="178.40" x2="265.78" y2="180.30" stroke="#333" stroke-width="0.6"/>
<text transform="translate(267.08,188.60) rotate(-90)" font-size="4.2" fill="#3a3a3a" textLength="7.3" lengthAdjust="spacingAndGlyphs">T.C</text>
<line x1="269.40" y1="178.40" x2="269.40" y2="180.30" stroke="#333" stroke-width="0.6"/>
<text transform="translate(270.70,188.60) rotate(-90)" font-size="4.2" fill="#3a3a3a" textLength="7.3" lengthAdjust="spacingAndGlyphs">T.G</text>
<line x1="273.03" y1="178.40" x2="273.03" y2="180.30" stroke="#333" stroke-width="0.6"/>
<text transform="translate(274.33,188.60) rotate(-90)" font-size="4.2" fill="#3a3a3a" textLength="7.3" lengthAdjust="spacingAndGlyphs">T.T</text>
<line x1="281.43" y1="178.40" x2="281.43" y2="180.30" stroke="#333" stroke-width="0.6"/>
<text transform="translate(282.73,188.60) rotate(-90)" font-size="4.2" fill="#3a3a3a" textLength="7.3" lengthAdjust="spacingAndGlyphs">A.A</text>
<line x1="285.06" y1="178.40" x2="285.06" y2="180.30" stroke="#333" stroke-width="0.6"/>
<text transform="translate(286.36,188.60) rotate(-90)" font-size="4.2" fill="#3a3a3a" textLength="7.3" lengthAdjust="spacingAndGlyphs">A.C</text>
<line x1="288.68" y1="178.40" x2="288.68" y2="180.30" stroke="#333" stroke-width="0.6"/>
<text transform="translate(289.98,188.60) rotate(-90)" font-size="4.2" fill="#3a3a3a" textLength="7.3" lengthAdjust="spacingAndGlyphs">A.G</text>
<line x1="292.31" y1="178.40" x2="292.31" y2="180.30" stroke="#333" stroke-width="0.6"/>
<text transform="translate(293.61,188.60) rotate(-90)" font-size="4.2" fill="#3a3a3a" textLength="7.3" lengthAdjust="spacingAndGlyphs">A.T</text>
<line x1="295.93" y1="178.40" x2="295.93" y2="180.30" stroke="#333" stroke-width="0.6"/>
<text transform="translate(297.23,188.60) rotate(-90)" font-size="4.2" fill="#3a3a3a" textLength="7.3" lengthAdjust="spacingAndGlyphs">C.A</text>
<line x1="299.56" y1="178.40" x2="299.56" y2="180.30" stroke="#333" stroke-width="0.6"/>
<text transform="translate(300.86,188.60) rotate(-90)" font-size="4.2" fill="#3a3a3a" textLength="7.3" lengthAdjust="spacingAndGlyphs">C.C</text>
<line x1="303.18" y1="178.40" x2="303.18" y2="180.30" stroke="#333" stroke-width="0.6"/>
<text transform="translate(304.48,188.60) rotate(-90)" font-size="4.2" fill="#3a3a3a" textLength="7.3" lengthAdjust="spacingAndGlyphs">C.G</text>
<line x1="306.81" y1="178.40" x2="306.81" y2="180.30" stroke="#333" stroke-width="0.6"/>
<text transform="translate(308.11,188.60) rotate(-90)" font-size="4.2" fill="#3a3a3a" textLength="7.3" lengthAdjust="spacingAndGlyphs">C.T</text>
<line x1="310.43" y1="178.40" x2="310.43" y2="180.30" stroke="#333" stroke-width="0.6"/>
<text transform="translate(311.73,188.60) rotate(-90)" font-size="4.2" fill="#3a3a3a" textLength="7.3" lengthAdjust="spacingAndGlyphs">G.A</text>
<line x1="314.06" y1="178.40" x2="314.06" y2="180.30" stroke="#333" stroke-width="0.6"/>
<text transform="translate(315.36,188.60) rotate(-90)" font-size="4.2" fill="#3a3a3a" textLength="7.3" lengthAdjust="spacingAndGlyphs">G.C</text>
<line x1="317.68" y1="178.40" x2="317.68" y2="180.30" stroke="#333" stroke-width="0.6"/>
<text transform="translate(318.98,188.60) rotate(-90)" font-size="4.2" fill="#3a3a3a" textLength="7.3" lengthAdjust="spacingAndGlyphs">G.G</text>
<line x1="321.31" y1="178.40" x2="321.31" y2="180.30" stroke="#333" stroke-width="0.6"/>
<text transform="translate(322.61,188.60) rotate(-90)" font-size="4.2" fill="#3a3a3a" textLength="7.3" lengthAdjust="spacingAndGlyphs">G.T</text>
<line x1="324.93" y1="178.40" x2="324.93" y2="180.30" stroke="#333" stroke-width="0.6"/>
<text transform="translate(326.23,188.60) rotate(-90)" font-size="4.2" fill="#3a3a3a" textLength="7.3" lengthAdjust="spacingAndGlyphs">T.A</text>
<line x1="328.56" y1="178.40" x2="328.56" y2="180.30" stroke="#333" stroke-width="0.6"/>
<text transform="translate(329.86,188.60) rotate(-90)" font-size="4.2" fill="#3a3a3a" textLength="7.3" lengthAdjust="spacingAndGlyphs">T.C</text>
<line x1="332.18" y1="178.40" x2="332.18" y2="180.30" stroke="#333" stroke-width="0.6"/>
<text transform="translate(333.48,188.60) rotate(-90)" font-size="4.2" fill="#3a3a3a" textLength="7.3" lengthAdjust="spacingAndGlyphs">T.G</text>
<line x1="335.81" y1="178.40" x2="335.81" y2="180.30" stroke="#333" stroke-width="0.6"/>
<text transform="translate(337.11,188.60) rotate(-90)" font-size="4.2" fill="#3a3a3a" textLength="7.3" lengthAdjust="spacingAndGlyphs">T.T</text>
<line x1="344.21" y1="178.40" x2="344.21" y2="180.30" stroke="#333" stroke-width="0.6"/>
<text transform="translate(345.51,188.60) rotate(-90)" font-size="4.2" fill="#3a3a3a" textLength="7.3" lengthAdjust="spacingAndGlyphs">A.A</text>
<line x1="347.84" y1="178.40" x2="347.84" y2="180.30" stroke="#333" stroke-width="0.6"/>
<text transform="translate(349.14,188.60) rotate(-90)" font-size="4.2" fill="#3a3a3a" textLength="7.3" lengthAdjust="spacingAndGlyphs">A.C</text>
<line x1="351.46" y1="178.40" x2="351.46" y2="180.30" stroke="#333" stroke-width="0.6"/>
<text transform="translate(352.76,188.60) rotate(-90)" font-size="4.2" fill="#3a3a3a" textLength="7.3" lengthAdjust="spacingAndGlyphs">A.G</text>
<line x1="355.09" y1="178.40" x2="355.09" y2="180.30" stroke="#333" stroke-width="0.6"/>
<text transform="translate(356.39,188.60) rotate(-90)" font-size="4.2" fill="#3a3a3a" textLength="7.3" lengthAdjust="spacingAndGlyphs">A.T</text>
<line x1="358.71" y1="178.40" x2="358.71" y2="180.30" stroke="#333" stroke-width="0.6"/>
<text transform="translate(360.01,188.60) rotate(-90)" font-size="4.2" fill="#3a3a3a" textLength="7.3" lengthAdjust="spacingAndGlyphs">C.A</text>
<line x1="362.34" y1="178.40" x2="362.34" y2="180.30" stroke="#333" stroke-width="0.6"/>
<text transform="translate(363.64,188.60) rotate(-90)" font-size="4.2" fill="#3a3a3a" textLength="7.3" lengthAdjust="spacingAndGlyphs">C.C</text>
<line x1="365.96" y1="178.40" x2="365.96" y2="180.30" stroke="#333" stroke-width="0.6"/>
<text transform="translate(367.26,188.60) rotate(-90)" font-size="4.2" fill="#3a3a3a" textLength="7.3" lengthAdjust="spacingAndGlyphs">C.G</text>
<line x1="369.59" y1="178.40" x2="369.59" y2="180.30" stroke="#333" stroke-width="0.6"/>
<text transform="translate(370.89,188.60) rotate(-90)" font-size="4.2" fill="#3a3a3a" textLength="7.3" lengthAdjust="spacingAndGlyphs">C.T</text>
<line x1="373.21" y1="178.40" x2="373.21" y2="180.30" stroke="#333" stroke-width="0.6"/>
<text transform="translate(374.51,188.60) rotate(-90)" font-size="4.2" fill="#3a3a3a" textLength="7.3" lengthAdjust="spacingAndGlyphs">G.A</text>
<line x1="376.84" y1="178.40" x2="376.84" y2="180.30" stroke="#333" stroke-width="0.6"/>
<text transform="translate(378.14,188.60) rotate(-90)" font-size="4.2" fill="#3a3a3a" textLength="7.3" lengthAdjust="spacingAndGlyphs">G.C</text>
<line x1="380.46" y1="178.40" x2="380.46" y2="180.30" stroke="#333" stroke-width="0.6"/>
<text transform="translate(381.76,188.60) rotate(-90)" font-size="4.2" fill="#3a3a3a" textLength="7.3" lengthAdjust="spacingAndGlyphs">G.G</text>
<line x1="384.09" y1="178.40" x2="384.09" y2="180.30" stroke="#333" stroke-width="0.6"/>
<text transform="translate(385.39,188.60) rotate(-90)" font-size="4.2" fill="#3a3a3a" textLength="7.3" lengthAdjust="spacingAndGlyphs">G.T</text>
<line x1="387.71" y1="178.40" x2="387.71" y2="180.30" stroke="#333" stroke-width="0.6"/>
<text transform="translate(389.01,188.60) rotate(-90)" font-size="4.2" fill="#3a3a3a" textLength="7.3" lengthAdjust="spacingAndGlyphs">T.A</text>
<line x1="391.34" y1="178.40" x2="391.34" y2="180.30" stroke="#333" stroke-width="0.6"/>
<text transform="translate(392.64,188.60) rotate(-90)" font-size="4.2" fill="#3a3a3a" textLength="7.3" lengthAdjust="spacingAndGlyphs">T.C</text>
<line x1="394.96" y1="178.40" x2="394.96" y2="180.30" stroke="#333" stroke-width="0.6"/>
<text transform="translate(396.26,188.60) rotate(-90)" font-size="4.2" fill="#3a3a3a" textLength="7.3" lengthAdjust="spacingAndGlyphs">T.G</text>
<line x1="398.59" y1="178.40" x2="398.59" y2="180.30" stroke="#333" stroke-width="0.6"/>
<text transform="translate(399.89,188.60) rotate(-90)" font-size="4.2" fill="#3a3a3a" textLength="7.3" lengthAdjust="spacingAndGlyphs">T.T</text>
<text transform="translate(11.9,96.0) rotate(-90)" font-size="7.4" font-weight="bold" fill="#111" text-anchor="middle" textLength="59.2" lengthAdjust="spacingAndGlyphs">Contributions</text>
<text x="202.80" y="198.90" font-size="8.0" text-anchor="start" font-weight="bold" fill="#111" textLength="23.2" lengthAdjust="spacingAndGlyphs" >Motifs</text>
<text x="4.00" y="8.10" font-size="14.5" text-anchor="start" font-weight="normal" fill="#000" >a</text>
<text x="-1.70" y="228.70" font-size="19.3" text-anchor="start" font-weight="normal" fill="#000" textLength="10.9" lengthAdjust="spacingAndGlyphs" >b</text>
<rect x="52" y="248" width="4" height="4" fill="#45C32F" stroke="#1d3d17" stroke-width="0.6"/>
<rect x="52" y="256" width="4" height="4" fill="#1F4E8E" stroke="#0e2340" stroke-width="0.6"/>
<text x="60.40" y="252.60" font-size="6.0" text-anchor="start" font-weight="normal" fill="#111" stroke="#111" stroke-width="0.22" textLength="9.2" lengthAdjust="spacingAndGlyphs" >Syn.</text>
<text x="60.40" y="260.50" font-size="6.0" text-anchor="start" font-weight="normal" fill="#111" stroke="#111" stroke-width="0.22" textLength="18.9" lengthAdjust="spacingAndGlyphs" >Non syn.</text>
<line x1="108.5" y1="224.30" x2="108.5" y2="278.70" stroke="#333" stroke-width="0.8"/>
<line x1="105.3" y1="278.70" x2="108.5" y2="278.70" stroke="#333" stroke-width="0.8"/>
<text x="101.00" y="281.00" font-size="6.2" text-anchor="end" font-weight="normal" fill="#222" stroke="#222" stroke-width="0.18" textLength="3.0" lengthAdjust="spacingAndGlyphs" >0</text>
<line x1="105.3" y1="265.10" x2="108.5" y2="265.10" stroke="#333" stroke-width="0.8"/>
<text x="101.00" y="267.40" font-size="6.2" text-anchor="end" font-weight="normal" fill="#222" stroke="#222" stroke-width="0.18" textLength="5.9" lengthAdjust="spacingAndGlyphs" >10</text>
<line x1="105.3" y1="251.50" x2="108.5" y2="251.50" stroke="#333" stroke-width="0.8"/>
<text x="101.00" y="253.80" font-size="6.2" text-anchor="end" font-weight="normal" fill="#222" stroke="#222" stroke-width="0.18" textLength="5.9" lengthAdjust="spacingAndGlyphs" >20</text>
<line x1="105.3" y1="237.90" x2="108.5" y2="237.90" stroke="#333" stroke-width="0.8"/>
<text x="101.00" y="240.20" font-size="6.2" text-anchor="end" font-weight="normal" fill="#222" stroke="#222" stroke-width="0.18" textLength="5.9" lengthAdjust="spacingAndGlyphs" >30</text>
<line x1="105.3" y1="224.30" x2="108.5" y2="224.30" stroke="#333" stroke-width="0.8"/>
<text x="101.00" y="226.60" font-size="6.2" text-anchor="end" font-weight="normal" fill="#222" stroke="#222" stroke-width="0.18" textLength="5.9" lengthAdjust="spacingAndGlyphs" >40</text>
<text transform="translate(90.3,251.3) rotate(-90)" font-size="6.6" fill="#222" text-anchor="middle" stroke="#222" stroke-width="0.22" textLength="46" lengthAdjust="spacingAndGlyphs"># mutations/Mb</text>
<rect x="110.80" y="270.20" width="4.93" height="2.90" fill="#4FC83A"/>
<rect x="110.80" y="273.10" width="4.93" height="5.60" fill="#1F5394"/>
<rect x="116.18" y="271.50" width="4.93" height="3.40" fill="#4FC83A"/>
<rect x="116.18" y="274.90" width="4.93" height="3.80" fill="#1F5394"/>
<rect x="121.57" y="271.50" width="4.93" height="1.70" fill="#4FC83A"/>
<rect x="121.57" y="273.20" width="4.93" height="5.50" fill="#1F5394"/>
<rect x="126.95" y="271.70" width="4.93" height="2.90" fill="#4FC83A"/>
<rect x="126.95" y="274.60" width="4.93" height="4.10" fill="#1F5394"/>
<rect x="132.34" y="274.10" width="4.93" height="1.80" fill="#4FC83A"/>
<rect x="132.34" y="275.90" width="4.93" height="2.80" fill="#1F5394"/>
<rect x="137.72" y="277.30" width="4.93" height="0.70" fill="#4FC83A"/>
<rect x="137.72" y="278.00" width="4.93" height="0.70" fill="#1F5394"/>
<rect x="143.10" y="260.20" width="4.93" height="4.80" fill="#4FC83A"/>
<rect x="143.10" y="265.00" width="4.93" height="13.70" fill="#1F5394"/>
<rect x="148.49" y="265.80" width="4.93" height="3.90" fill="#4FC83A"/>
<rect x="148.49" y="269.70" width="4.93" height="9.00" fill="#1F5394"/>
<rect x="153.87" y="270.70" width="4.93" height="3.30" fill="#4FC83A"/>
<rect x="153.87" y="274.00" width="4.93" height="4.70" fill="#1F5394"/>
<rect x="159.26" y="271.90" width="4.93" height="2.60" fill="#4FC83A"/>
<rect x="159.26" y="274.50" width="4.93" height="4.20" fill="#1F5394"/>
<rect x="164.64" y="273.80" width="4.93" height="2.40" fill="#4FC83A"/>
<rect x="164.64" y="276.20" width="4.93" height="2.50" fill="#1F5394"/>
<rect x="170.02" y="274.70" width="4.93" height="2.30" fill="#4FC83A"/>
<rect x="170.02" y="277.00" width="4.93" height="1.70" fill="#1F5394"/>
<rect x="175.41" y="227.00" width="4.93" height="18.80" fill="#4FC83A"/>
<rect x="175.41" y="245.80" width="4.93" height="32.90" fill="#1F5394"/>
<rect x="180.79" y="254.20" width="4.93" height="7.50" fill="#4FC83A"/>
<rect x="180.79" y="261.70" width="4.93" height="17.00" fill="#1F5394"/>
<rect x="186.18" y="265.00" width="4.93" height="4.50" fill="#4FC83A"/>
<rect x="186.18" y="269.50" width="4.93" height="9.20" fill="#1F5394"/>
<rect x="191.56" y="265.80" width="4.93" height="3.70" fill="#4FC83A"/>
<rect x="191.56" y="269.50" width="4.93" height="9.20" fill="#1F5394"/>
<rect x="196.94" y="267.20" width="4.93" height="3.60" fill="#4FC83A"/>
<rect x="196.94" y="270.80" width="4.93" height="7.90" fill="#1F5394"/>
<rect x="202.33" y="269.70" width="4.93" height="3.00" fill="#4FC83A"/>
<rect x="202.33" y="272.70" width="4.93" height="6.00" fill="#1F5394"/>
<rect x="207.71" y="270.00" width="4.93" height="3.80" fill="#4FC83A"/>
<rect x="207.71" y="273.80" width="4.93" height="4.90" fill="#1F5394"/>
<rect x="213.10" y="270.00" width="4.93" height="3.00" fill="#4FC83A"/>
<rect x="213.10" y="273.00" width="4.93" height="5.70" fill="#1F5394"/>
<rect x="218.48" y="270.10" width="4.93" height="3.00" fill="#4FC83A"/>
<rect x="218.48" y="273.10" width="4.93" height="5.60" fill="#1F5394"/>
<rect x="223.86" y="270.70" width="4.93" height="2.60" fill="#4FC83A"/>
<rect x="223.86" y="273.30" width="4.93" height="5.40" fill="#1F5394"/>
<rect x="229.25" y="271.10" width="4.93" height="2.60" fill="#4FC83A"/>
<rect x="229.25" y="273.70" width="4.93" height="5.00" fill="#1F5394"/>
<rect x="234.63" y="271.50" width="4.93" height="2.50" fill="#4FC83A"/>
<rect x="234.63" y="274.00" width="4.93" height="4.70" fill="#1F5394"/>
<rect x="240.02" y="272.10" width="4.93" height="1.90" fill="#4FC83A"/>
<rect x="240.02" y="274.00" width="4.93" height="4.70" fill="#1F5394"/>
<rect x="245.40" y="273.10" width="4.93" height="1.90" fill="#4FC83A"/>
<rect x="245.40" y="275.00" width="4.93" height="3.70" fill="#1F5394"/>
<rect x="250.78" y="273.40" width="4.93" height="2.50" fill="#4FC83A"/>
<rect x="250.78" y="275.90" width="4.93" height="2.80" fill="#1F5394"/>
<rect x="256.17" y="274.10" width="4.93" height="1.80" fill="#4FC83A"/>
<rect x="256.17" y="275.90" width="4.93" height="2.80" fill="#1F5394"/>
<rect x="261.55" y="274.00" width="4.93" height="1.30" fill="#4FC83A"/>
<rect x="261.55" y="275.30" width="4.93" height="3.40" fill="#1F5394"/>
<rect x="266.94" y="274.10" width="4.93" height="1.80" fill="#4FC83A"/>
<rect x="266.94" y="275.90" width="4.93" height="2.80" fill="#1F5394"/>
<rect x="272.32" y="274.40" width="4.93" height="1.50" fill="#4FC83A"/>
<rect x="272.32" y="275.90" width="4.93" height="2.80" fill="#1F5394"/>
<rect x="277.70" y="275.30" width="4.93" height="1.70" fill="#4FC83A"/>
<rect x="277.70" y="277.00" width="4.93" height="1.70" fill="#1F5394"/>
<rect x="283.09" y="275.40" width="4.93" height="1.60" fill="#4FC83A"/>
<rect x="283.09" y="277.00" width="4.93" height="1.70" fill="#1F5394"/>
<rect x="288.47" y="275.80" width="4.93" height="1.20" fill="#4FC83A"/>
<rect x="288.47" y="277.00" width="4.93" height="1.70" fill="#1F5394"/>
<rect x="293.86" y="276.10" width="4.93" height="0.60" fill="#4FC83A"/>
<rect x="293.86" y="276.70" width="4.93" height="2.00" fill="#1F5394"/>
<rect x="299.24" y="276.10" width="4.93" height="0.70" fill="#4FC83A"/>
<rect x="299.24" y="276.80" width="4.93" height="1.90" fill="#1F5394"/>
<rect x="304.62" y="276.30" width="4.93" height="0.80" fill="#4FC83A"/>
<rect x="304.62" y="277.10" width="4.93" height="1.60" fill="#1F5394"/>
<rect x="310.01" y="276.30" width="4.93" height="0.80" fill="#4FC83A"/>
<rect x="310.01" y="277.10" width="4.93" height="1.60" fill="#1F5394"/>
<rect x="315.39" y="276.30" width="4.93" height="0.50" fill="#4FC83A"/>
<rect x="315.39" y="276.80" width="4.93" height="1.90" fill="#1F5394"/>
<rect x="320.78" y="276.30" width="4.93" height="0.80" fill="#4FC83A"/>
<rect x="320.78" y="277.10" width="4.93" height="1.60" fill="#1F5394"/>
<rect x="326.16" y="276.30" width="4.93" height="1.10" fill="#4FC83A"/>
<rect x="326.16" y="277.40" width="4.93" height="1.30" fill="#1F5394"/>
<rect x="331.54" y="276.70" width="4.93" height="0.30" fill="#4FC83A"/>
<rect x="331.54" y="277.00" width="4.93" height="1.70" fill="#1F5394"/>
<rect x="336.93" y="276.50" width="4.93" height="0.60" fill="#4FC83A"/>
<rect x="336.93" y="277.10" width="4.93" height="1.60" fill="#1F5394"/>
<rect x="342.31" y="276.50" width="4.93" height="0.90" fill="#4FC83A"/>
<rect x="342.31" y="277.40" width="4.93" height="1.30" fill="#1F5394"/>
<rect x="347.70" y="276.80" width="4.93" height="0.30" fill="#4FC83A"/>
<rect x="347.70" y="277.10" width="4.93" height="1.60" fill="#1F5394"/>
<rect x="353.08" y="276.80" width="4.93" height="0.60" fill="#4FC83A"/>
<rect x="353.08" y="277.40" width="4.93" height="1.30" fill="#1F5394"/>
<rect x="358.46" y="277.10" width="4.93" height="0.30" fill="#4FC83A"/>
<rect x="358.46" y="277.40" width="4.93" height="1.30" fill="#1F5394"/>
<rect x="363.85" y="277.10" width="4.93" height="0.30" fill="#4FC83A"/>
<rect x="363.85" y="277.40" width="4.93" height="1.30" fill="#1F5394"/>
<rect x="369.23" y="277.50" width="4.93" height="0.30" fill="#4FC83A"/>
<rect x="369.23" y="277.80" width="4.93" height="0.90" fill="#1F5394"/>
<rect x="374.62" y="277.80" width="4.93" height="0.10" fill="#4FC83A"/>
<rect x="374.62" y="277.90" width="4.93" height="0.80" fill="#1F5394"/>
<rect x="110.80" y="285.5" width="269.20" height="77.8" fill="#F6F5F4"/>
<rect x="110.80" y="285.50" width="269.20" height="38.4" fill="#EFEEED"/>
<rect x="110.80" y="285.50" width="32.30" height="38.4" fill="#3F80BB"/>
<line x1="116.18" y1="285.50" x2="116.18" y2="323.90" stroke="#80AAD5" stroke-width="0.6"/>
<line x1="121.57" y1="285.50" x2="121.57" y2="323.90" stroke="#80AAD5" stroke-width="0.6"/>
<line x1="126.95" y1="285.50" x2="126.95" y2="323.90" stroke="#80AAD5" stroke-width="0.6"/>
<line x1="132.34" y1="285.50" x2="132.34" y2="323.90" stroke="#80AAD5" stroke-width="0.6"/>
<line x1="137.72" y1="285.50" x2="137.72" y2="323.90" stroke="#80AAD5" stroke-width="0.6"/>
<line x1="143.10" y1="285.50" x2="143.10" y2="323.90" stroke="#F8F8F7" stroke-width="0.6"/>
<line x1="148.49" y1="285.50" x2="148.49" y2="323.90" stroke="#F8F8F7" stroke-width="0.6"/>
<line x1="153.87" y1="285.50" x2="153.87" y2="323.90" stroke="#F8F8F7" stroke-width="0.6"/>
<line x1="159.26" y1="285.50" x2="159.26" y2="323.90" stroke="#F8F8F7" stroke-width="0.6"/>
<line x1="164.64" y1="285.50" x2="164.64" y2="323.90" stroke="#F8F8F7" stroke-width="0.6"/>
<line x1="170.02" y1="285.50" x2="170.02" y2="323.90" stroke="#F8F8F7" stroke-width="0.6"/>
<line x1="175.41" y1="285.50" x2="175.41" y2="323.90" stroke="#F8F8F7" stroke-width="0.6"/>
<line x1="180.79" y1="285.50" x2="180.79" y2="323.90" stroke="#F8F8F7" stroke-width="0.6"/>
<line x1="186.18" y1="285.50" x2="186.18" y2="323.90" stroke="#F8F8F7" stroke-width="0.6"/>
<line x1="191.56" y1="285.50" x2="191.56" y2="323.90" stroke="#F8F8F7" stroke-width="0.6"/>
<line x1="196.94" y1="285.50" x2="196.94" y2="323.90" stroke="#F8F8F7" stroke-width="0.6"/>
<line x1="202.33" y1="285.50" x2="202.33" y2="323.90" stroke="#F8F8F7" stroke-width="0.6"/>
<line x1="207.71" y1="285.50" x2="207.71" y2="323.90" stroke="#F8F8F7" stroke-width="0.6"/>
<line x1="213.10" y1="285.50" x2="213.10" y2="323.90" stroke="#F8F8F7" stroke-width="0.6"/>
<line x1="218.48" y1="285.50" x2="218.48" y2="323.90" stroke="#F8F8F7" stroke-width="0.6"/>
<line x1="223.86" y1="285.50" x2="223.86" y2="323.90" stroke="#F8F8F7" stroke-width="0.6"/>
<line x1="229.25" y1="285.50" x2="229.25" y2="323.90" stroke="#F8F8F7" stroke-width="0.6"/>
<line x1="234.63" y1="285.50" x2="234.63" y2="323.90" stroke="#F8F8F7" stroke-width="0.6"/>
<line x1="240.02" y1="285.50" x2="240.02" y2="323.90" stroke="#F8F8F7" stroke-width="0.6"/>
<line x1="245.40" y1="285.50" x2="245.40" y2="323.90" stroke="#F8F8F7" stroke-width="0.6"/>
<line x1="250.78" y1="285.50" x2="250.78" y2="323.90" stroke="#F8F8F7" stroke-width="0.6"/>
<line x1="256.17" y1="285.50" x2="256.17" y2="323.90" stroke="#F8F8F7" stroke-width="0.6"/>
<line x1="261.55" y1="285.50" x2="261.55" y2="323.90" stroke="#F8F8F7" stroke-width="0.6"/>
<line x1="266.94" y1="285.50" x2="266.94" y2="323.90" stroke="#F8F8F7" stroke-width="0.6"/>
<line x1="272.32" y1="285.50" x2="272.32" y2="323.90" stroke="#F8F8F7" stroke-width="0.6"/>
<line x1="277.70" y1="285.50" x2="277.70" y2="323.90" stroke="#F8F8F7" stroke-width="0.6"/>
<line x1="283.09" y1="285.50" x2="283.09" y2="323.90" stroke="#F8F8F7" stroke-width="0.6"/>
<line x1="288.47" y1="285.50" x2="288.47" y2="323.90" stroke="#F8F8F7" stroke-width="0.6"/>
<line x1="293.86" y1="285.50" x2="293.86" y2="323.90" stroke="#F8F8F7" stroke-width="0.6"/>
<line x1="299.24" y1="285.50" x2="299.24" y2="323.90" stroke="#F8F8F7" stroke-width="0.6"/>
<line x1="304.62" y1="285.50" x2="304.62" y2="323.90" stroke="#F8F8F7" stroke-width="0.6"/>
<line x1="310.01" y1="285.50" x2="310.01" y2="323.90" stroke="#F8F8F7" stroke-width="0.6"/>
<line x1="315.39" y1="285.50" x2="315.39" y2="323.90" stroke="#F8F8F7" stroke-width="0.6"/>
<line x1="320.78" y1="285.50" x2="320.78" y2="323.90" stroke="#F8F8F7" stroke-width="0.6"/>
<line x1="326.16" y1="285.50" x2="326.16" y2="323.90" stroke="#F8F8F7" stroke-width="0.6"/>
<line x1="331.54" y1="285.50" x2="331.54" y2="323.90" stroke="#F8F8F7" stroke-width="0.6"/>
<line x1="336.93" y1="285.50" x2="336.93" y2="323.90" stroke="#F8F8F7" stroke-width="0.6"/>
<line x1="342.31" y1="285.50" x2="342.31" y2="323.90" stroke="#F8F8F7" stroke-width="0.6"/>
<line x1="347.70" y1="285.50" x2="347.70" y2="323.90" stroke="#F8F8F7" stroke-width="0.6"/>
<line x1="353.08" y1="285.50" x2="353.08" y2="323.90" stroke="#F8F8F7" stroke-width="0.6"/>
<line x1="358.46" y1="285.50" x2="358.46" y2="323.90" stroke="#F8F8F7" stroke-width="0.6"/>
<line x1="363.85" y1="285.50" x2="363.85" y2="323.90" stroke="#F8F8F7" stroke-width="0.6"/>
<line x1="369.23" y1="285.50" x2="369.23" y2="323.90" stroke="#F8F8F7" stroke-width="0.6"/>
<line x1="374.62" y1="285.50" x2="374.62" y2="323.90" stroke="#F8F8F7" stroke-width="0.6"/>
<rect x="110.80" y="324.90" width="269.20" height="38.4" fill="#EFEEED"/>
<rect x="143.10" y="324.90" width="32.30" height="38.4" fill="#3F80BB"/>
<line x1="116.18" y1="324.90" x2="116.18" y2="363.30" stroke="#F8F8F7" stroke-width="0.6"/>
<line x1="121.57" y1="324.90" x2="121.57" y2="363.30" stroke="#F8F8F7" stroke-width="0.6"/>
<line x1="126.95" y1="324.90" x2="126.95" y2="363.30" stroke="#F8F8F7" stroke-width="0.6"/>
<line x1="132.34" y1="324.90" x2="132.34" y2="363.30" stroke="#F8F8F7" stroke-width="0.6"/>
<line x1="137.72" y1="324.90" x2="137.72" y2="363.30" stroke="#F8F8F7" stroke-width="0.6"/>
<line x1="143.10" y1="324.90" x2="143.10" y2="363.30" stroke="#F8F8F7" stroke-width="0.6"/>
<line x1="148.49" y1="324.90" x2="148.49" y2="363.30" stroke="#80AAD5" stroke-width="0.6"/>
<line x1="153.87" y1="324.90" x2="153.87" y2="363.30" stroke="#80AAD5" stroke-width="0.6"/>
<line x1="159.26" y1="324.90" x2="159.26" y2="363.30" stroke="#80AAD5" stroke-width="0.6"/>
<line x1="164.64" y1="324.90" x2="164.64" y2="363.30" stroke="#80AAD5" stroke-width="0.6"/>
<line x1="170.02" y1="324.90" x2="170.02" y2="363.30" stroke="#80AAD5" stroke-width="0.6"/>
<line x1="175.41" y1="324.90" x2="175.41" y2="363.30" stroke="#F8F8F7" stroke-width="0.6"/>
<line x1="180.79" y1="324.90" x2="180.79" y2="363.30" stroke="#F8F8F7" stroke-width="0.6"/>
<line x1="186.18" y1="324.90" x2="186.18" y2="363.30" stroke="#F8F8F7" stroke-width="0.6"/>
<line x1="191.56" y1="324.90" x2="191.56" y2="363.30" stroke="#F8F8F7" stroke-width="0.6"/>
<line x1="196.94" y1="324.90" x2="196.94" y2="363.30" stroke="#F8F8F7" stroke-width="0.6"/>
<line x1="202.33" y1="324.90" x2="202.33" y2="363.30" stroke="#F8F8F7" stroke-width="0.6"/>
<line x1="207.71" y1="324.90" x2="207.71" y2="363.30" stroke="#F8F8F7" stroke-width="0.6"/>
<line x1="213.10" y1="324.90" x2="213.10" y2="363.30" stroke="#F8F8F7" stroke-width="0.6"/>
<line x1="218.48" y1="324.90" x2="218.48" y2="363.30" stroke="#F8F8F7" stroke-width="0.6"/>
<line x1="223.86" y1="324.90" x2="223.86" y2="363.30" stroke="#F8F8F7" stroke-width="0.6"/>
<line x1="229.25" y1="324.90" x2="229.25" y2="363.30" stroke="#F8F8F7" stroke-width="0.6"/>
<line x1="234.63" y1="324.90" x2="234.63" y2="363.30" stroke="#F8F8F7" stroke-width="0.6"/>
<line x1="240.02" y1="324.90" x2="240.02" y2="363.30" stroke="#F8F8F7" stroke-width="0.6"/>
<line x1="245.40" y1="324.90" x2="245.40" y2="363.30" stroke="#F8F8F7" stroke-width="0.6"/>
<line x1="250.78" y1="324.90" x2="250.78" y2="363.30" stroke="#F8F8F7" stroke-width="0.6"/>
<line x1="256.17" y1="324.90" x2="256.17" y2="363.30" stroke="#F8F8F7" stroke-width="0.6"/>
<line x1="261.55" y1="324.90" x2="261.55" y2="363.30" stroke="#F8F8F7" stroke-width="0.6"/>
<line x1="266.94" y1="324.90" x2="266.94" y2="363.30" stroke="#F8F8F7" stroke-width="0.6"/>
<line x1="272.32" y1="324.90" x2="272.32" y2="363.30" stroke="#F8F8F7" stroke-width="0.6"/>
<line x1="277.70" y1="324.90" x2="277.70" y2="363.30" stroke="#F8F8F7" stroke-width="0.6"/>
<line x1="283.09" y1="324.90" x2="283.09" y2="363.30" stroke="#F8F8F7" stroke-width="0.6"/>
<line x1="288.47" y1="324.90" x2="288.47" y2="363.30" stroke="#F8F8F7" stroke-width="0.6"/>
<line x1="293.86" y1="324.90" x2="293.86" y2="363.30" stroke="#F8F8F7" stroke-width="0.6"/>
<line x1="299.24" y1="324.90" x2="299.24" y2="363.30" stroke="#F8F8F7" stroke-width="0.6"/>
<line x1="304.62" y1="324.90" x2="304.62" y2="363.30" stroke="#F8F8F7" stroke-width="0.6"/>
<line x1="310.01" y1="324.90" x2="310.01" y2="363.30" stroke="#F8F8F7" stroke-width="0.6"/>
<line x1="315.39" y1="324.90" x2="315.39" y2="363.30" stroke="#F8F8F7" stroke-width="0.6"/>
<line x1="320.78" y1="324.90" x2="320.78" y2="363.30" stroke="#F8F8F7" stroke-width="0.6"/>
<line x1="326.16" y1="324.90" x2="326.16" y2="363.30" stroke="#F8F8F7" stroke-width="0.6"/>
<line x1="331.54" y1="324.90" x2="331.54" y2="363.30" stroke="#F8F8F7" stroke-width="0.6"/>
<line x1="336.93" y1="324.90" x2="336.93" y2="363.30" stroke="#F8F8F7" stroke-width="0.6"/>
<line x1="342.31" y1="324.90" x2="342.31" y2="363.30" stroke="#F8F8F7" stroke-width="0.6"/>
<line x1="347.70" y1="324.90" x2="347.70" y2="363.30" stroke="#F8F8F7" stroke-width="0.6"/>
<line x1="353.08" y1="324.90" x2="353.08" y2="363.30" stroke="#F8F8F7" stroke-width="0.6"/>
<line x1="358.46" y1="324.90" x2="358.46" y2="363.30" stroke="#F8F8F7" stroke-width="0.6"/>
<line x1="363.85" y1="324.90" x2="363.85" y2="363.30" stroke="#F8F8F7" stroke-width="0.6"/>
<line x1="369.23" y1="324.90" x2="369.23" y2="363.30" stroke="#F8F8F7" stroke-width="0.6"/>
<line x1="374.62" y1="324.90" x2="374.62" y2="363.30" stroke="#F8F8F7" stroke-width="0.6"/>
<text x="96.90" y="308.10" font-size="6.3" text-anchor="start" font-weight="normal" fill="#222" stroke="#222" stroke-width="0.18" textLength="11.3" lengthAdjust="spacingAndGlyphs" >12%</text>
<text x="96.90" y="346.80" font-size="6.3" text-anchor="start" font-weight="normal" fill="#222" stroke="#222" stroke-width="0.18" textLength="11.3" lengthAdjust="spacingAndGlyphs" >12%</text>
<rect x="27.1" y="285.6" width="66.3" height="38.3" fill="#1F5394"/>
<rect x="27.1" y="324.6" width="66.3" height="38.6" fill="#1F5394"/>
<line x1="27" y1="363.4" x2="93.6" y2="363.4" stroke="#222" stroke-width="0.8"/>
<line x1="27.00" y1="363.4" x2="27.00" y2="367.8" stroke="#333" stroke-width="0.7"/>
<text x="26.40" y="379.10" font-size="7.3" text-anchor="middle" font-weight="normal" fill="#222" stroke="#222" stroke-width="0.12" textLength="3.5" lengthAdjust="spacingAndGlyphs" >6</text>
<line x1="38.10" y1="363.4" x2="38.10" y2="367.8" stroke="#333" stroke-width="0.7"/>
<text x="37.50" y="379.10" font-size="7.3" text-anchor="middle" font-weight="normal" fill="#222" stroke="#222" stroke-width="0.12" textLength="3.5" lengthAdjust="spacingAndGlyphs" >5</text>
<line x1="49.20" y1="363.4" x2="49.20" y2="367.8" stroke="#333" stroke-width="0.7"/>
<text x="48.60" y="379.10" font-size="7.3" text-anchor="middle" font-weight="normal" fill="#222" stroke="#222" stroke-width="0.12" textLength="3.5" lengthAdjust="spacingAndGlyphs" >4</text>
<line x1="60.30" y1="363.4" x2="60.30" y2="367.8" stroke="#333" stroke-width="0.7"/>
<text x="59.70" y="379.10" font-size="7.3" text-anchor="middle" font-weight="normal" fill="#222" stroke="#222" stroke-width="0.12" textLength="3.5" lengthAdjust="spacingAndGlyphs" >3</text>
<line x1="71.40" y1="363.4" x2="71.40" y2="367.8" stroke="#333" stroke-width="0.7"/>
<text x="70.80" y="379.10" font-size="7.3" text-anchor="middle" font-weight="normal" fill="#222" stroke="#222" stroke-width="0.12" textLength="3.5" lengthAdjust="spacingAndGlyphs" >2</text>
<line x1="82.50" y1="363.4" x2="82.50" y2="367.8" stroke="#333" stroke-width="0.7"/>
<text x="81.90" y="379.10" font-size="7.3" text-anchor="middle" font-weight="normal" fill="#222" stroke="#222" stroke-width="0.12" textLength="3.5" lengthAdjust="spacingAndGlyphs" >1</text>
<line x1="93.60" y1="363.4" x2="93.60" y2="367.8" stroke="#333" stroke-width="0.7"/>
<text x="93.00" y="379.10" font-size="7.3" text-anchor="middle" font-weight="normal" fill="#222" stroke="#222" stroke-width="0.12" textLength="3.5" lengthAdjust="spacingAndGlyphs" >0</text>
<text x="44.50" y="386.80" font-size="6.3" text-anchor="start" font-weight="normal" fill="#222" stroke="#222" stroke-width="0.18" textLength="30.4" lengthAdjust="spacingAndGlyphs" ># mutations</text>
<text x="397.90" y="307.90" font-size="8.2" text-anchor="start" font-weight="normal" fill="#222" stroke="#222" stroke-width="0.18" textLength="15.0" lengthAdjust="spacingAndGlyphs" >NRAS</text>
<text x="398.70" y="346.80" font-size="8.2" text-anchor="start" font-weight="normal" fill="#222" stroke="#222" stroke-width="0.18" textLength="13.9" lengthAdjust="spacingAndGlyphs" >BRAF</text>
<rect x="419.4" y="285.8" width="33.6" height="38.0" fill="#858585"/>
<rect x="419.4" y="324.8" width="33.6" height="38.1" fill="#858585"/>
<line x1="426.3" y1="285.8" x2="426.3" y2="362.9" stroke="#8E4FC9" stroke-width="0.9" stroke-dasharray="2.2,1.6"/>
<line x1="430.4" y1="285.8" x2="430.4" y2="362.9" stroke="#D9503C" stroke-width="0.9"/>
<line x1="452.9" y1="363.3" x2="465.2" y2="363.3" stroke="#222" stroke-width="0.8"/>
<line x1="424.8" y1="363.2" x2="424.8" y2="367.8" stroke="#333" stroke-width="0.7"/>
<line x1="430.4" y1="363.2" x2="430.4" y2="367.8" stroke="#333" stroke-width="0.7"/>
<line x1="436.3" y1="363.2" x2="436.3" y2="367.8" stroke="#333" stroke-width="0.7"/>
<line x1="442.3" y1="363.2" x2="442.3" y2="367.8" stroke="#333" stroke-width="0.7"/>
<line x1="447.8" y1="363.2" x2="447.8" y2="367.8" stroke="#333" stroke-width="0.7"/>
<line x1="453.4" y1="363.2" x2="453.4" y2="367.8" stroke="#333" stroke-width="0.7"/>
<line x1="459.3" y1="363.2" x2="459.3" y2="367.8" stroke="#333" stroke-width="0.7"/>
<line x1="465.0" y1="363.2" x2="465.0" y2="367.8" stroke="#333" stroke-width="0.7"/>
<text x="424.00" y="378.80" font-size="6.6" text-anchor="middle" font-weight="normal" fill="#222" stroke="#222" stroke-width="0.18" textLength="7.7" lengthAdjust="spacingAndGlyphs" >0.5</text>
<text x="440.60" y="378.80" font-size="6.6" text-anchor="middle" font-weight="normal" fill="#222" stroke="#222" stroke-width="0.18" textLength="7.0" lengthAdjust="spacingAndGlyphs" >2.0</text>
<text x="457.00" y="378.80" font-size="6.6" text-anchor="middle" font-weight="normal" fill="#222" stroke="#222" stroke-width="0.18" textLength="7.6" lengthAdjust="spacingAndGlyphs" >3.5</text>
<text x="425.10" y="388.50" font-size="6.7" text-anchor="start" font-weight="normal" fill="#222" stroke="#222" stroke-width="0.18" textLength="39.6" lengthAdjust="spacingAndGlyphs" >-log10(q-value)</text>
<rect x="377" y="230.60" width="3.9" height="3.9" fill="#4CBF3C" stroke="#222" stroke-width="0.6"/>
<text x="385.50" y="234.70" font-size="5.8" text-anchor="start" font-weight="normal" fill="#222" stroke="#222" stroke-width="0.18" textLength="9.0" lengthAdjust="spacingAndGlyphs" >Syn.</text>
<rect x="377" y="238.20" width="3.9" height="3.9" fill="#3679BE" stroke="#222" stroke-width="0.6"/>
<text x="385.50" y="242.30" font-size="5.8" text-anchor="start" font-weight="normal" fill="#222" stroke="#222" stroke-width="0.18" textLength="19.6" lengthAdjust="spacingAndGlyphs" >Missense</text>
<rect x="377" y="245.80" width="3.9" height="3.9" fill="#8C3DB8" stroke="#222" stroke-width="0.6"/>
<text x="385.50" y="249.90" font-size="5.8" text-anchor="start" font-weight="normal" fill="#222" stroke="#222" stroke-width="0.18" textLength="21.6" lengthAdjust="spacingAndGlyphs" >Splice site</text>
<rect x="377" y="253.40" width="3.9" height="3.9" fill="#DE2A1E" stroke="#222" stroke-width="0.6"/>
<text x="385.50" y="257.50" font-size="5.8" text-anchor="start" font-weight="normal" fill="#222" stroke="#222" stroke-width="0.18" textLength="21.0" lengthAdjust="spacingAndGlyphs" >Nonsense</text>
<rect x="424.4" y="230.60" width="3.9" height="3.9" fill="#F08422" stroke="#222" stroke-width="0.6"/>
<text x="433.00" y="234.70" font-size="5.8" text-anchor="start" font-weight="normal" fill="#222" stroke="#222" stroke-width="0.18" textLength="24.0" lengthAdjust="spacingAndGlyphs" >Frame shift</text>
<rect x="424.4" y="238.20" width="3.9" height="3.9" fill="#F2E52A" stroke="#222" stroke-width="0.6"/>
<text x="433.00" y="242.30" font-size="5.8" text-anchor="start" font-weight="normal" fill="#222" stroke="#222" stroke-width="0.18" textLength="30.0" lengthAdjust="spacingAndGlyphs" >In frame indel</text>
<rect x="424.4" y="245.80" width="3.9" height="3.9" fill="#9C5524" stroke="#222" stroke-width="0.6"/>
<text x="433.00" y="249.90" font-size="5.8" text-anchor="start" font-weight="normal" fill="#222" stroke="#222" stroke-width="0.18" textLength="32.2" lengthAdjust="spacingAndGlyphs" >Other non syn.</text>
<line x1="491.7" y1="16.6" x2="684.7" y2="16.6" stroke="#9a9a9a" stroke-width="0.7"/>
<line x1="684.7" y1="16.6" x2="684.7" y2="179.0" stroke="#9a9a9a" stroke-width="0.7"/>
<line x1="491.7" y1="16.6" x2="491.7" y2="179.0" stroke="#7a7a7a" stroke-width="0.8"/>
<line x1="491.7" y1="179.35" x2="684.7" y2="179.35" stroke="#7a7a7a" stroke-width="0.8"/>
<line x1="491.7" y1="179.00" x2="493.2" y2="179.00" stroke="#888" stroke-width="0.5"/>
<line x1="683.2" y1="179.00" x2="684.7" y2="179.00" stroke="#888" stroke-width="0.5"/>
<text x="489.50" y="182.00" font-size="6.7" text-anchor="end" font-weight="bold" fill="#2a2a2a" textLength="3.4" lengthAdjust="spacingAndGlyphs" >0</text>
<line x1="491.7" y1="151.93" x2="493.2" y2="151.93" stroke="#888" stroke-width="0.5"/>
<line x1="683.2" y1="151.93" x2="684.7" y2="151.93" stroke="#888" stroke-width="0.5"/>
<text x="490.10" y="154.93" font-size="6.7" text-anchor="end" font-weight="bold" fill="#2a2a2a" textLength="7.9" lengthAdjust="spacingAndGlyphs" >0.2</text>
<line x1="491.7" y1="124.87" x2="493.2" y2="124.87" stroke="#888" stroke-width="0.5"/>
<line x1="683.2" y1="124.87" x2="684.7" y2="124.87" stroke="#888" stroke-width="0.5"/>
<text x="490.10" y="127.87" font-size="6.7" text-anchor="end" font-weight="bold" fill="#2a2a2a" textLength="7.9" lengthAdjust="spacingAndGlyphs" >0.4</text>
<line x1="491.7" y1="97.80" x2="493.2" y2="97.80" stroke="#888" stroke-width="0.5"/>
<line x1="683.2" y1="97.80" x2="684.7" y2="97.80" stroke="#888" stroke-width="0.5"/>
<text x="490.10" y="100.80" font-size="6.7" text-anchor="end" font-weight="bold" fill="#2a2a2a" textLength="7.9" lengthAdjust="spacingAndGlyphs" >0.6</text>
<line x1="491.7" y1="70.73" x2="493.2" y2="70.73" stroke="#888" stroke-width="0.5"/>
<line x1="683.2" y1="70.73" x2="684.7" y2="70.73" stroke="#888" stroke-width="0.5"/>
<text x="490.10" y="73.73" font-size="6.7" text-anchor="end" font-weight="bold" fill="#2a2a2a" textLength="7.9" lengthAdjust="spacingAndGlyphs" >0.8</text>
<line x1="491.7" y1="43.67" x2="493.2" y2="43.67" stroke="#888" stroke-width="0.5"/>
<line x1="683.2" y1="43.67" x2="684.7" y2="43.67" stroke="#888" stroke-width="0.5"/>
<text x="489.50" y="46.67" font-size="6.7" text-anchor="end" font-weight="bold" fill="#2a2a2a" textLength="3.4" lengthAdjust="spacingAndGlyphs" >1</text>
<line x1="491.7" y1="16.60" x2="493.2" y2="16.60" stroke="#888" stroke-width="0.5"/>
<line x1="683.2" y1="16.60" x2="684.7" y2="16.60" stroke="#888" stroke-width="0.5"/>
<text x="490.10" y="19.60" font-size="6.7" text-anchor="end" font-weight="bold" fill="#2a2a2a" textLength="7.9" lengthAdjust="spacingAndGlyphs" >1.2</text>
<line x1="491.70" y1="179.0" x2="491.70" y2="177.5" stroke="#888" stroke-width="0.5"/>
<line x1="491.70" y1="16.6" x2="491.70" y2="18.1" stroke="#888" stroke-width="0.5"/>
<text x="492.10" y="189.00" font-size="7.0" text-anchor="middle" font-weight="bold" fill="#2a2a2a" textLength="3.1" lengthAdjust="spacingAndGlyphs" >0</text>
<line x1="514.96" y1="179.0" x2="514.96" y2="177.5" stroke="#888" stroke-width="0.5"/>
<line x1="514.96" y1="16.6" x2="514.96" y2="18.1" stroke="#888" stroke-width="0.5"/>
<text x="515.36" y="189.00" font-size="7.0" text-anchor="middle" font-weight="bold" fill="#2a2a2a" textLength="9.7" lengthAdjust="spacingAndGlyphs" >100</text>
<line x1="538.22" y1="179.0" x2="538.22" y2="177.5" stroke="#888" stroke-width="0.5"/>
<line x1="538.22" y1="16.6" x2="538.22" y2="18.1" stroke="#888" stroke-width="0.5"/>
<text x="538.62" y="189.00" font-size="7.0" text-anchor="middle" font-weight="bold" fill="#2a2a2a" textLength="9.7" lengthAdjust="spacingAndGlyphs" >200</text>
<line x1="561.48" y1="179.0" x2="561.48" y2="177.5" stroke="#888" stroke-width="0.5"/>
<line x1="561.48" y1="16.6" x2="561.48" y2="18.1" stroke="#888" stroke-width="0.5"/>
<text x="561.88" y="189.00" font-size="7.0" text-anchor="middle" font-weight="bold" fill="#2a2a2a" textLength="9.7" lengthAdjust="spacingAndGlyphs" >300</text>
<line x1="584.74" y1="179.0" x2="584.74" y2="177.5" stroke="#888" stroke-width="0.5"/>
<line x1="584.74" y1="16.6" x2="584.74" y2="18.1" stroke="#888" stroke-width="0.5"/>
<text x="585.14" y="189.00" font-size="7.0" text-anchor="middle" font-weight="bold" fill="#2a2a2a" textLength="9.7" lengthAdjust="spacingAndGlyphs" >400</text>
<line x1="608.00" y1="179.0" x2="608.00" y2="177.5" stroke="#888" stroke-width="0.5"/>
<line x1="608.00" y1="16.6" x2="608.00" y2="18.1" stroke="#888" stroke-width="0.5"/>
<text x="608.40" y="189.00" font-size="7.0" text-anchor="middle" font-weight="bold" fill="#2a2a2a" textLength="9.7" lengthAdjust="spacingAndGlyphs" >500</text>
<line x1="631.26" y1="179.0" x2="631.26" y2="177.5" stroke="#888" stroke-width="0.5"/>
<line x1="631.26" y1="16.6" x2="631.26" y2="18.1" stroke="#888" stroke-width="0.5"/>
<text x="631.66" y="189.00" font-size="7.0" text-anchor="middle" font-weight="bold" fill="#2a2a2a" textLength="9.7" lengthAdjust="spacingAndGlyphs" >600</text>
<line x1="654.52" y1="179.0" x2="654.52" y2="177.5" stroke="#888" stroke-width="0.5"/>
<line x1="654.52" y1="16.6" x2="654.52" y2="18.1" stroke="#888" stroke-width="0.5"/>
<text x="654.92" y="189.00" font-size="7.0" text-anchor="middle" font-weight="bold" fill="#2a2a2a" textLength="9.7" lengthAdjust="spacingAndGlyphs" >700</text>
<line x1="677.78" y1="179.0" x2="677.78" y2="177.5" stroke="#888" stroke-width="0.5"/>
<line x1="677.78" y1="16.6" x2="677.78" y2="18.1" stroke="#888" stroke-width="0.5"/>
<text x="678.18" y="189.00" font-size="7.0" text-anchor="middle" font-weight="bold" fill="#2a2a2a" textLength="9.7" lengthAdjust="spacingAndGlyphs" >800</text>
<path d="M491.70,43.67 L504.73,43.67 L504.73,54.94 L530.31,54.94 L530.31,77.50 L664.99,77.50 L664.99,90.22 L684.76,90.22" fill="none" stroke="#2E7CC4" stroke-width="2.65" stroke-linejoin="miter"/>
<path d="M491.70,43.67 L509.84,43.67 L509.84,54.09 L512.63,54.09 L512.63,64.51 L529.61,64.51 L529.61,74.93 L531.94,74.93 L531.94,85.35 L542.87,85.35 L542.87,95.77 L544.27,95.77 L544.27,106.19 L555.90,106.19 L555.90,116.54 L569.39,116.54 L569.39,126.95 L591.72,126.95 L591.72,137.36 L602.42,137.36 L602.42,147.77 L658.71,147.77 L658.71,163.44 L684.76,163.44" fill="none" stroke="#A3142E" stroke-width="2.65" stroke-linejoin="miter"/>
<rect x="632.4" y="21.80" width="47.6" height="17" fill="#fff" stroke="#999" stroke-width="0.6"/>
<line x1="634.1" y1="26.40" x2="652.1" y2="26.40" stroke="#2E7CC4" stroke-width="2.3"/>
<line x1="634.1" y1="33.90" x2="652.1" y2="33.90" stroke="#A3142E" stroke-width="2.3"/>
<text x="653.70" y="28.70" font-size="6.0" text-anchor="start" font-weight="bold" fill="#111" textLength="23.4" lengthAdjust="spacingAndGlyphs" >Low TMB</text>
<text x="653.70" y="36.20" font-size="6.0" text-anchor="start" font-weight="bold" fill="#111" textLength="24.6" lengthAdjust="spacingAndGlyphs" >High TMB</text>
<text x="677.60" y="49.00" font-size="10.2" text-anchor="end" font-weight="normal" fill="#222" stroke="#222" stroke-width="0.1" textLength="36.6" lengthAdjust="spacingAndGlyphs" >P = 0.01</text>
<text transform="translate(478.7,97.80) rotate(-90)" font-size="6.8" font-weight="bold" fill="#222" text-anchor="middle" textLength="51.4" lengthAdjust="spacingAndGlyphs">Overall survival</text>
<line x1="491.7" y1="204.0" x2="684.7" y2="204.0" stroke="#9a9a9a" stroke-width="0.7"/>
<line x1="684.7" y1="204.0" x2="684.7" y2="366.3" stroke="#9a9a9a" stroke-width="0.7"/>
<line x1="491.7" y1="204.0" x2="491.7" y2="366.3" stroke="#7a7a7a" stroke-width="0.8"/>
<line x1="491.7" y1="366.40000000000003" x2="684.7" y2="366.40000000000003" stroke="#7a7a7a" stroke-width="0.8"/>
<line x1="491.7" y1="366.30" x2="493.2" y2="366.30" stroke="#888" stroke-width="0.5"/>
<line x1="683.2" y1="366.30" x2="684.7" y2="366.30" stroke="#888" stroke-width="0.5"/>
<text x="489.50" y="369.30" font-size="6.7" text-anchor="end" font-weight="bold" fill="#2a2a2a" textLength="3.4" lengthAdjust="spacingAndGlyphs" >0</text>
<line x1="491.7" y1="339.25" x2="493.2" y2="339.25" stroke="#888" stroke-width="0.5"/>
<line x1="683.2" y1="339.25" x2="684.7" y2="339.25" stroke="#888" stroke-width="0.5"/>
<text x="490.10" y="342.25" font-size="6.7" text-anchor="end" font-weight="bold" fill="#2a2a2a" textLength="7.9" lengthAdjust="spacingAndGlyphs" >0.2</text>
<line x1="491.7" y1="312.20" x2="493.2" y2="312.20" stroke="#888" stroke-width="0.5"/>
<line x1="683.2" y1="312.20" x2="684.7" y2="312.20" stroke="#888" stroke-width="0.5"/>
<text x="490.10" y="315.20" font-size="6.7" text-anchor="end" font-weight="bold" fill="#2a2a2a" textLength="7.9" lengthAdjust="spacingAndGlyphs" >0.4</text>
<line x1="491.7" y1="285.15" x2="493.2" y2="285.15" stroke="#888" stroke-width="0.5"/>
<line x1="683.2" y1="285.15" x2="684.7" y2="285.15" stroke="#888" stroke-width="0.5"/>
<text x="490.10" y="288.15" font-size="6.7" text-anchor="end" font-weight="bold" fill="#2a2a2a" textLength="7.9" lengthAdjust="spacingAndGlyphs" >0.6</text>
<line x1="491.7" y1="258.10" x2="493.2" y2="258.10" stroke="#888" stroke-width="0.5"/>
<line x1="683.2" y1="258.10" x2="684.7" y2="258.10" stroke="#888" stroke-width="0.5"/>
<text x="490.10" y="261.10" font-size="6.7" text-anchor="end" font-weight="bold" fill="#2a2a2a" textLength="7.9" lengthAdjust="spacingAndGlyphs" >0.8</text>
<line x1="491.7" y1="231.05" x2="493.2" y2="231.05" stroke="#888" stroke-width="0.5"/>
<line x1="683.2" y1="231.05" x2="684.7" y2="231.05" stroke="#888" stroke-width="0.5"/>
<text x="489.50" y="234.05" font-size="6.7" text-anchor="end" font-weight="bold" fill="#2a2a2a" textLength="3.4" lengthAdjust="spacingAndGlyphs" >1</text>
<line x1="491.7" y1="204.00" x2="493.2" y2="204.00" stroke="#888" stroke-width="0.5"/>
<line x1="683.2" y1="204.00" x2="684.7" y2="204.00" stroke="#888" stroke-width="0.5"/>
<line x1="491.70" y1="366.3" x2="491.70" y2="364.8" stroke="#888" stroke-width="0.5"/>
<line x1="491.70" y1="204.0" x2="491.70" y2="205.5" stroke="#888" stroke-width="0.5"/>
<text x="492.10" y="376.30" font-size="7.0" text-anchor="middle" font-weight="bold" fill="#2a2a2a" textLength="3.1" lengthAdjust="spacingAndGlyphs" >0</text>
<line x1="519.70" y1="366.3" x2="519.70" y2="364.8" stroke="#888" stroke-width="0.5"/>
<line x1="519.70" y1="204.0" x2="519.70" y2="205.5" stroke="#888" stroke-width="0.5"/>
<text x="520.10" y="376.30" font-size="7.0" text-anchor="middle" font-weight="bold" fill="#2a2a2a" textLength="6.4" lengthAdjust="spacingAndGlyphs" >20</text>
<line x1="547.70" y1="366.3" x2="547.70" y2="364.8" stroke="#888" stroke-width="0.5"/>
<line x1="547.70" y1="204.0" x2="547.70" y2="205.5" stroke="#888" stroke-width="0.5"/>
<text x="548.10" y="376.30" font-size="7.0" text-anchor="middle" font-weight="bold" fill="#2a2a2a" textLength="6.4" lengthAdjust="spacingAndGlyphs" >40</text>
<line x1="575.70" y1="366.3" x2="575.70" y2="364.8" stroke="#888" stroke-width="0.5"/>
<line x1="575.70" y1="204.0" x2="575.70" y2="205.5" stroke="#888" stroke-width="0.5"/>
<text x="576.10" y="376.30" font-size="7.0" text-anchor="middle" font-weight="bold" fill="#2a2a2a" textLength="6.4" lengthAdjust="spacingAndGlyphs" >60</text>
<line x1="603.70" y1="366.3" x2="603.70" y2="364.8" stroke="#888" stroke-width="0.5"/>
<line x1="603.70" y1="204.0" x2="603.70" y2="205.5" stroke="#888" stroke-width="0.5"/>
<text x="604.10" y="376.30" font-size="7.0" text-anchor="middle" font-weight="bold" fill="#2a2a2a" textLength="6.4" lengthAdjust="spacingAndGlyphs" >80</text>
<line x1="631.70" y1="366.3" x2="631.70" y2="364.8" stroke="#888" stroke-width="0.5"/>
<line x1="631.70" y1="204.0" x2="631.70" y2="205.5" stroke="#888" stroke-width="0.5"/>
<text x="632.10" y="376.30" font-size="7.0" text-anchor="middle" font-weight="bold" fill="#2a2a2a" textLength="9.7" lengthAdjust="spacingAndGlyphs" >100</text>
<line x1="659.70" y1="366.3" x2="659.70" y2="364.8" stroke="#888" stroke-width="0.5"/>
<line x1="659.70" y1="204.0" x2="659.70" y2="205.5" stroke="#888" stroke-width="0.5"/>
<text x="660.10" y="376.30" font-size="7.0" text-anchor="middle" font-weight="bold" fill="#2a2a2a" textLength="9.7" lengthAdjust="spacingAndGlyphs" >120</text>
<path d="M491.70,231.05 L502.90,231.05 L502.90,247.96 L577.80,247.96 L577.80,264.86 L640.10,264.86 L640.10,285.15 L687.70,285.15" fill="none" stroke="#2E7CC4" stroke-width="2.65" stroke-linejoin="miter"/>
<path d="M491.70,231.05 L509.90,231.05 L509.90,240.65 L525.30,240.65 L525.30,251.47 L526.14,251.47 L526.14,261.62 L535.66,261.62 L535.66,272.17 L536.64,272.17 L536.64,282.85 L557.50,282.85 L557.50,292.72 L586.48,292.72 L586.48,303.41 L635.06,303.41 L635.06,315.99 L684.62,315.99" fill="none" stroke="#A3142E" stroke-width="2.65" stroke-linejoin="miter"/>
<rect x="632.4" y="209.20" width="47.6" height="17" fill="#fff" stroke="#999" stroke-width="0.6"/>
<line x1="634.1" y1="213.80" x2="652.1" y2="213.80" stroke="#2E7CC4" stroke-width="2.3"/>
<line x1="634.1" y1="221.30" x2="652.1" y2="221.30" stroke="#A3142E" stroke-width="2.3"/>
<text x="653.70" y="216.10" font-size="6.0" text-anchor="start" font-weight="bold" fill="#111" textLength="23.4" lengthAdjust="spacingAndGlyphs" >Low TMB</text>
<text x="653.70" y="223.60" font-size="6.0" text-anchor="start" font-weight="bold" fill="#111" textLength="24.6" lengthAdjust="spacingAndGlyphs" >High TMB</text>
<text x="676.00" y="236.40" font-size="10.2" text-anchor="end" font-weight="normal" fill="#222" stroke="#222" stroke-width="0.1" textLength="33.0" lengthAdjust="spacingAndGlyphs" >P = N.S</text>
<text transform="translate(478.7,285.15) rotate(-90)" font-size="6.8" font-weight="bold" fill="#222" text-anchor="middle" textLength="51.4" lengthAdjust="spacingAndGlyphs">Overall survival</text>
<text x="563.50" y="385.20" font-size="6.5" text-anchor="start" font-weight="bold" fill="#222" textLength="49.8" lengthAdjust="spacingAndGlyphs" >Followup (Days)</text>
<text x="467.00" y="8.90" font-size="15.5" text-anchor="start" font-weight="normal" fill="#000" textLength="8.1" lengthAdjust="spacingAndGlyphs" >c</text>
<text x="470.20" y="203.70" font-size="16.2" text-anchor="start" font-weight="normal" fill="#000" >d</text>
</svg>
</body></html>
